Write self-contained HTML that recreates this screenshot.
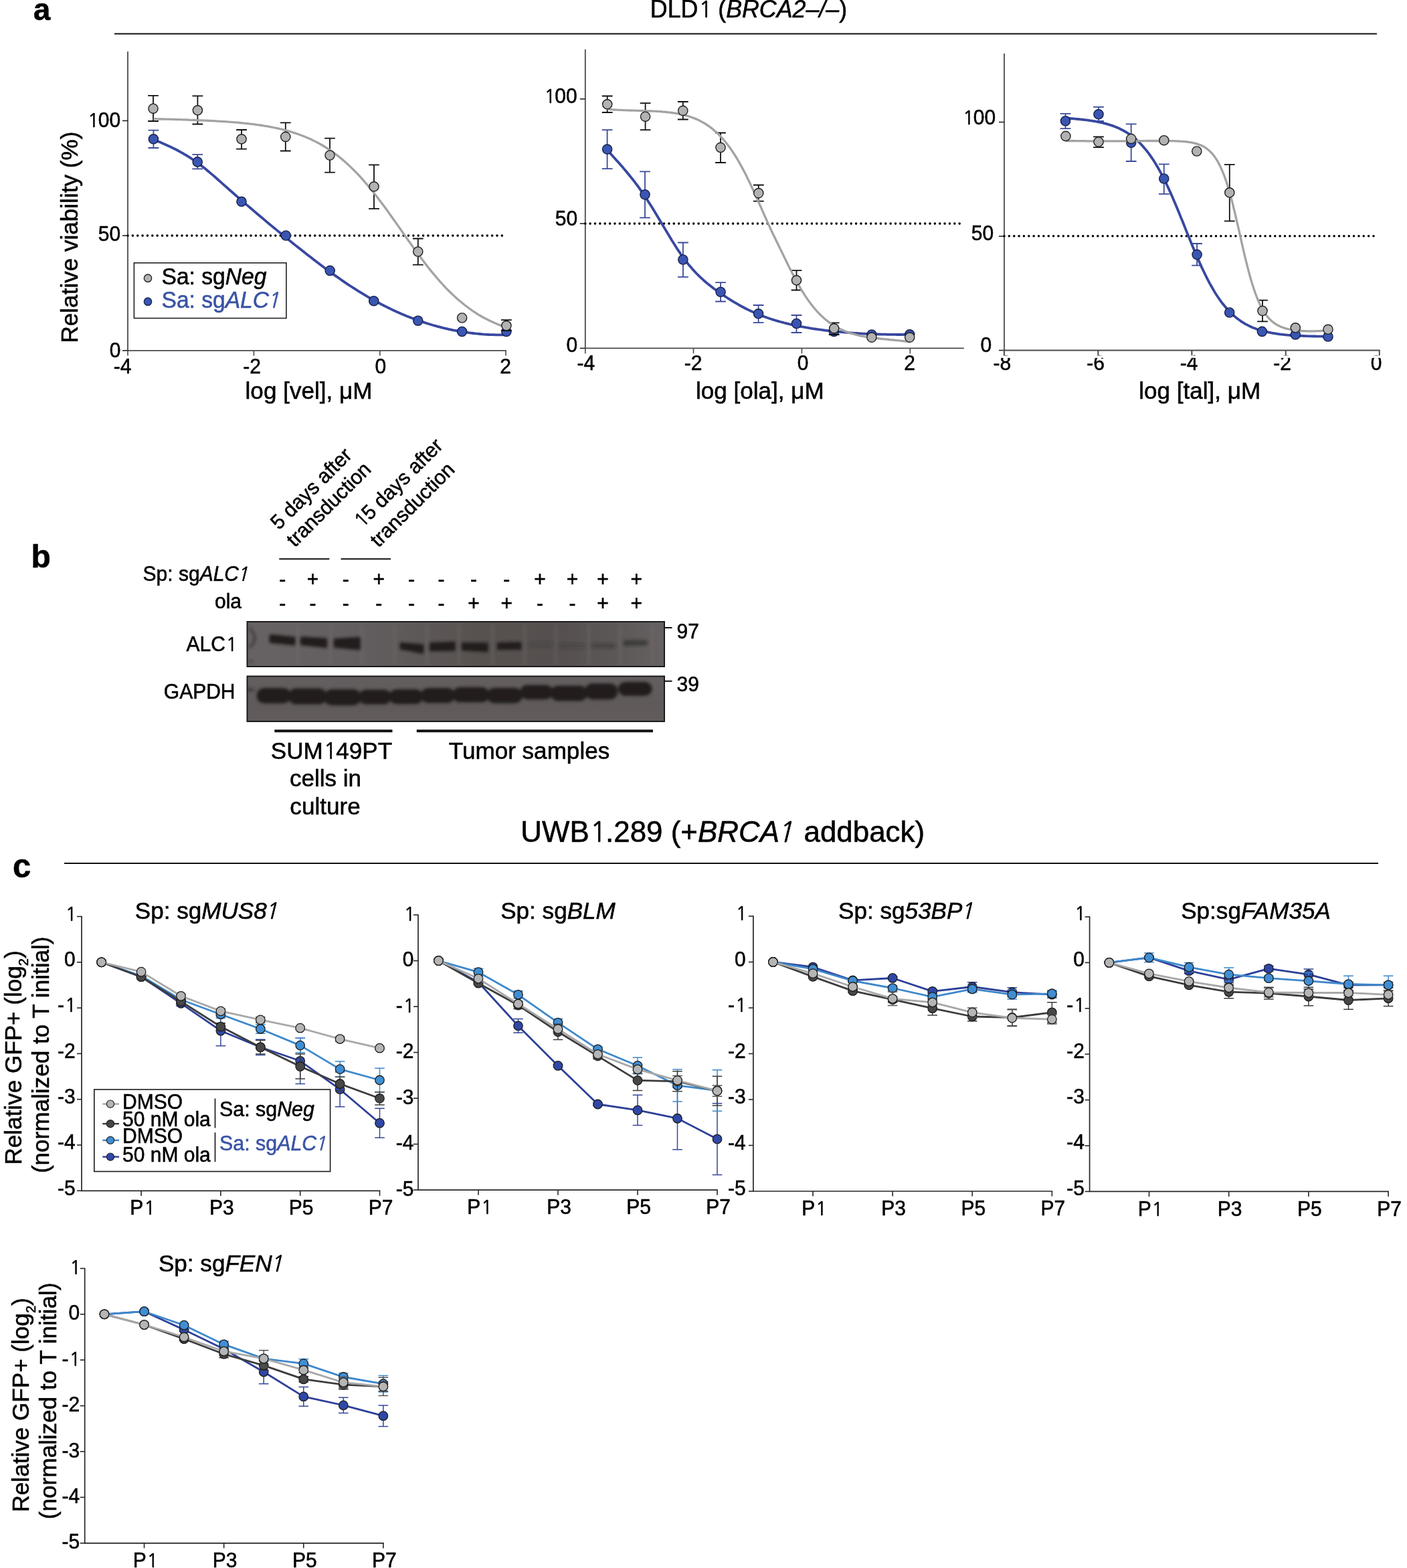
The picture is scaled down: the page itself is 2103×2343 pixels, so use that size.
<!DOCTYPE html>
<html><head><meta charset="utf-8"><title>Figure</title>
<style>
html,body{margin:0;padding:0;background:#fff;}
svg{display:block;}
text{font-family:"Liberation Sans",Arial,Helvetica,sans-serif;fill:#000;stroke:#000;stroke-width:0.55px;}
</style></head><body>
<svg width="2103" height="2343" viewBox="0 0 2103 2343">
<rect width="2103" height="2343" fill="#fff"/>
<text transform="translate(50 29.5) scale(1 1.02)" font-size="45.5" text-anchor="start" font-weight="bold">a</text>
<text transform="translate(971.8 25.7) scale(1 1.02)" font-size="35.8" text-anchor="start" >DLD<tspan font-family="NanumGothic, Liberation Sans, sans-serif" font-size="33.29" dx="1.07" letter-spacing="-1.35">1</tspan> (<tspan font-style="italic">BRCA2–/–</tspan>)</text>
<line x1="171" y1="50.5" x2="2058" y2="50.5" stroke="#111" stroke-width="2" />
<line x1="191" y1="77" x2="191" y2="524.6" stroke="#4a4a4a" stroke-width="1.8" />
<line x1="190.1" y1="523.8" x2="756.8" y2="523.8" stroke="#4a4a4a" stroke-width="1.8" />
<line x1="183" y1="523.8" x2="191" y2="523.8" stroke="#222" stroke-width="1.6" />
<text transform="translate(180.5 533.8) scale(1 1.02)" font-size="30" text-anchor="end" >0</text>
<line x1="183" y1="352.1" x2="191" y2="352.1" stroke="#222" stroke-width="1.6" />
<text transform="translate(180.2 360.3) scale(1 1.02)" font-size="30" text-anchor="end" >50</text>
<line x1="183" y1="180.4" x2="191" y2="180.4" stroke="#222" stroke-width="1.6" />
<text transform="translate(179.3 189.6) scale(1 1.02)" font-size="30" text-anchor="end" ><tspan font-family="NanumGothic, Liberation Sans, sans-serif" font-size="27.90" dx="0.90" letter-spacing="-1.13">1</tspan>00</text>
<line x1="191" y1="523.8" x2="191" y2="531.6" stroke="#4a4a4a" stroke-width="1.6" />
<line x1="379.4" y1="523.8" x2="379.4" y2="531.6" stroke="#4a4a4a" stroke-width="1.6" />
<line x1="567.8" y1="523.8" x2="567.8" y2="531.6" stroke="#4a4a4a" stroke-width="1.6" />
<line x1="756" y1="523.8" x2="756" y2="531.6" stroke="#4a4a4a" stroke-width="1.6" />
<text transform="translate(183 557.5) scale(1 1.02)" font-size="30" text-anchor="middle" >-4</text>
<text transform="translate(376.5 557.5) scale(1 1.02)" font-size="30" text-anchor="middle" >-2</text>
<text transform="translate(568.8 557.5) scale(1 1.02)" font-size="30" text-anchor="middle" >0</text>
<text transform="translate(755.6 557.5) scale(1 1.02)" font-size="30" text-anchor="middle" >2</text>
<text transform="translate(461.5 595.5) scale(1 1.02)" font-size="35.1" text-anchor="middle" >log [vel], μM</text>
<line x1="191" y1="352.1" x2="751" y2="352.1" stroke="#000" stroke-width="3.6" stroke-linecap="round" stroke-dasharray="0 7.36"/>
<path d="M229.4 194.7V221M221.5 194.7H237.3M221.5 221H237.3" stroke="#3b4a99" stroke-width="1.8" fill="none"/>
<path d="M295.2 230.8V252.3M287.3 230.8H303.1M287.3 252.3H303.1" stroke="#3b4a99" stroke-width="1.8" fill="none"/>
<path d="M229.4 208.5 L232.7 209.9 L236.0 211.2 L239.4 212.6 L242.7 214.0 L246.0 215.4 L249.3 216.9 L252.6 218.4 L255.9 220.0 L259.3 221.6 L262.6 223.3 L265.9 225.0 L269.2 226.8 L272.5 228.6 L275.8 230.6 L279.2 232.5 L282.5 234.6 L285.8 236.7 L289.1 239.0 L292.4 241.3 L295.8 243.7 L299.1 246.1 L302.4 248.7 L305.7 251.3 L309.0 254.0 L312.3 256.8 L315.7 259.6 L319.0 262.4 L322.3 265.3 L325.6 268.2 L328.9 271.2 L332.2 274.1 L335.6 277.1 L338.9 280.0 L342.2 283.0 L345.5 285.9 L348.8 288.8 L352.2 291.7 L355.5 294.6 L358.8 297.5 L362.1 300.4 L365.4 303.2 L368.7 306.1 L372.1 308.9 L375.4 311.8 L378.7 314.6 L382.0 317.4 L385.3 320.2 L388.6 323.0 L392.0 325.8 L395.3 328.6 L398.6 331.4 L401.9 334.2 L405.2 336.9 L408.6 339.7 L411.9 342.4 L415.2 345.1 L418.5 347.8 L421.8 350.5 L425.1 353.2 L428.5 355.9 L431.8 358.6 L435.1 361.3 L438.4 363.9 L441.7 366.6 L445.0 369.2 L448.4 371.8 L451.7 374.5 L455.0 377.1 L458.3 379.7 L461.6 382.3 L465.0 384.8 L468.3 387.4 L471.6 390.0 L474.9 392.5 L478.2 395.0 L481.5 397.5 L484.9 400.0 L488.2 402.5 L491.5 404.9 L494.8 407.3 L498.1 409.7 L501.4 412.1 L504.8 414.4 L508.1 416.8 L511.4 419.1 L514.7 421.3 L518.0 423.6 L521.3 425.8 L524.7 428.0 L528.0 430.1 L531.3 432.2 L534.6 434.3 L537.9 436.4 L541.3 438.4 L544.6 440.4 L547.9 442.4 L551.2 444.3 L554.5 446.2 L557.8 448.1 L561.2 450.0 L564.5 451.8 L567.8 453.5 L571.1 455.3 L574.4 457.0 L577.7 458.6 L581.1 460.3 L584.4 461.9 L587.7 463.5 L591.0 465.0 L594.3 466.5 L597.7 468.0 L601.0 469.4 L604.3 470.8 L607.6 472.2 L610.9 473.5 L614.2 474.8 L617.6 476.1 L620.9 477.3 L624.2 478.5 L627.5 479.7 L630.8 480.8 L634.1 481.9 L637.5 483.0 L640.8 484.0 L644.1 485.0 L647.4 486.0 L650.7 486.9 L654.1 487.8 L657.4 488.7 L660.7 489.6 L664.0 490.4 L667.3 491.1 L670.6 491.9 L674.0 492.6 L677.3 493.3 L680.6 493.9 L683.9 494.6 L687.2 495.1 L690.5 495.7 L693.9 496.2 L697.2 496.7 L700.5 497.2 L703.8 497.6 L707.1 498.0 L710.5 498.4 L713.8 498.7 L717.1 499.0 L720.4 499.3 L723.7 499.6 L727.0 499.8 L730.4 500.0 L733.7 500.1 L737.0 500.2 L740.3 500.3 L743.6 500.4 L746.9 500.4 L750.3 500.4 L753.6 500.4 L756.9 500.3" stroke="#3848a0" stroke-width="3.8" fill="none" stroke-linejoin="round"/>
<circle cx="229.4" cy="207.8" r="7.1" fill="#3a56b2" stroke="#161f4a" stroke-width="1.4"/>
<circle cx="295.2" cy="241.9" r="7.1" fill="#3a56b2" stroke="#161f4a" stroke-width="1.4"/>
<circle cx="361" cy="301.3" r="7.1" fill="#3a56b2" stroke="#161f4a" stroke-width="1.4"/>
<circle cx="427.3" cy="352" r="7.1" fill="#3a56b2" stroke="#161f4a" stroke-width="1.4"/>
<circle cx="493.2" cy="404.4" r="7.1" fill="#3a56b2" stroke="#161f4a" stroke-width="1.4"/>
<circle cx="558.7" cy="449.7" r="7.1" fill="#3a56b2" stroke="#161f4a" stroke-width="1.4"/>
<circle cx="624.8" cy="479.2" r="7.1" fill="#3a56b2" stroke="#161f4a" stroke-width="1.4"/>
<circle cx="690.6" cy="495.5" r="7.1" fill="#3a56b2" stroke="#161f4a" stroke-width="1.4"/>
<circle cx="756.9" cy="495.5" r="7.1" fill="#3a56b2" stroke="#161f4a" stroke-width="1.4"/>
<path d="M229 142.9V181M221.1 142.9H236.9M221.1 181H236.9" stroke="#111" stroke-width="1.8" fill="none"/>
<path d="M295.4 143.3V185.5M287.5 143.3H303.3M287.5 185.5H303.3" stroke="#111" stroke-width="1.8" fill="none"/>
<path d="M361 194V222.6M353.1 194H368.9M353.1 222.6H368.9" stroke="#111" stroke-width="1.8" fill="none"/>
<path d="M426.8 183.3V225.5M418.9 183.3H434.7M418.9 225.5H434.7" stroke="#111" stroke-width="1.8" fill="none"/>
<path d="M493 206.7V257.7M485.1 206.7H500.9M485.1 257.7H500.9" stroke="#111" stroke-width="1.8" fill="none"/>
<path d="M559 246.3V311.8M551.1 246.3H566.9M551.1 311.8H566.9" stroke="#111" stroke-width="1.8" fill="none"/>
<path d="M624.8 356.5V395.6M616.9 356.5H632.7M616.9 395.6H632.7" stroke="#111" stroke-width="1.8" fill="none"/>
<path d="M756.9 478.2V494M749 478.2H764.8M749 494H764.8" stroke="#111" stroke-width="1.8" fill="none"/>
<path d="M229.5 177.6 L232.8 177.7 L236.1 177.8 L239.5 177.9 L242.8 178.0 L246.1 178.1 L249.4 178.1 L252.7 178.2 L256.0 178.3 L259.4 178.4 L262.7 178.5 L266.0 178.6 L269.3 178.7 L272.6 178.8 L275.9 178.9 L279.3 179.0 L282.6 179.2 L285.9 179.3 L289.2 179.4 L292.5 179.5 L295.8 179.6 L299.2 179.8 L302.5 179.9 L305.8 180.1 L309.1 180.2 L312.4 180.4 L315.7 180.5 L319.1 180.7 L322.4 180.9 L325.7 181.1 L329.0 181.3 L332.3 181.5 L335.6 181.7 L339.0 181.9 L342.3 182.2 L345.6 182.4 L348.9 182.7 L352.2 182.9 L355.5 183.2 L358.9 183.5 L362.2 183.8 L365.5 184.2 L368.8 184.5 L372.1 184.9 L375.4 185.3 L378.8 185.7 L382.1 186.1 L385.4 186.6 L388.7 187.0 L392.0 187.5 L395.3 188.1 L398.7 188.6 L402.0 189.2 L405.3 189.8 L408.6 190.5 L411.9 191.1 L415.3 191.9 L418.6 192.6 L421.9 193.4 L425.2 194.3 L428.5 195.1 L431.8 196.1 L435.2 197.0 L438.5 198.1 L441.8 199.1 L445.1 200.3 L448.4 201.5 L451.7 202.7 L455.1 204.0 L458.4 205.4 L461.7 206.8 L465.0 208.3 L468.3 209.9 L471.6 211.6 L475.0 213.3 L478.3 215.1 L481.6 217.0 L484.9 219.0 L488.2 221.1 L491.5 223.2 L494.9 225.5 L498.2 227.8 L501.5 230.2 L504.8 232.8 L508.1 235.4 L511.4 238.1 L514.8 241.0 L518.1 243.9 L521.4 247.0 L524.7 250.1 L528.0 253.4 L531.3 256.7 L534.7 260.2 L538.0 263.7 L541.3 267.4 L544.6 271.1 L547.9 275.0 L551.2 278.9 L554.6 282.9 L557.9 287.1 L561.2 291.3 L564.5 295.5 L567.8 299.9 L571.1 304.3 L574.5 308.8 L577.8 313.3 L581.1 317.9 L584.4 322.5 L587.7 327.2 L591.1 331.9 L594.4 336.6 L597.7 341.3 L601.0 346.0 L604.3 350.7 L607.6 355.5 L611.0 360.2 L614.3 364.8 L617.6 369.5 L620.9 374.1 L624.2 378.6 L627.5 383.1 L630.9 387.5 L634.2 391.9 L637.5 396.2 L640.8 400.5 L644.1 404.6 L647.4 408.7 L650.8 412.6 L654.1 416.5 L657.4 420.3 L660.7 424.0 L664.0 427.6 L667.3 431.1 L670.7 434.5 L674.0 437.7 L677.3 440.9 L680.6 444.0 L683.9 447.0 L687.2 449.8 L690.6 452.6 L693.9 455.3 L697.2 457.8 L700.5 460.3 L703.8 462.7 L707.1 465.0 L710.5 467.2 L713.8 469.3 L717.1 471.3 L720.4 473.2 L723.7 475.0 L727.0 476.8 L730.4 478.5 L733.7 480.1 L737.0 481.6 L740.3 483.1 L743.6 484.5 L746.9 485.8 L750.3 487.1 L753.6 488.3 L756.9 489.4" stroke="#a3a3a3" stroke-width="3.3" fill="none" stroke-linejoin="round"/>
<circle cx="229" cy="162.2" r="7.1" fill="#b2b2b2" stroke="#1e1e1e" stroke-width="1.4"/>
<circle cx="295.4" cy="164.8" r="7.1" fill="#b2b2b2" stroke="#1e1e1e" stroke-width="1.4"/>
<circle cx="361" cy="207.8" r="7.1" fill="#b2b2b2" stroke="#1e1e1e" stroke-width="1.4"/>
<circle cx="426.8" cy="204.4" r="7.1" fill="#b2b2b2" stroke="#1e1e1e" stroke-width="1.4"/>
<circle cx="493" cy="232" r="7.1" fill="#b2b2b2" stroke="#1e1e1e" stroke-width="1.4"/>
<circle cx="559" cy="278.8" r="7.1" fill="#b2b2b2" stroke="#1e1e1e" stroke-width="1.4"/>
<circle cx="624.8" cy="376" r="7.1" fill="#b2b2b2" stroke="#1e1e1e" stroke-width="1.4"/>
<circle cx="690.6" cy="475" r="7.1" fill="#b2b2b2" stroke="#1e1e1e" stroke-width="1.4"/>
<circle cx="756.9" cy="486.6" r="7.1" fill="#b2b2b2" stroke="#1e1e1e" stroke-width="1.4"/>
<line x1="874.8" y1="73.8" x2="874.8" y2="521.2" stroke="#4a4a4a" stroke-width="1.8" />
<line x1="873.9" y1="520.4" x2="1440.8" y2="520.4" stroke="#4a4a4a" stroke-width="1.8" />
<line x1="866.8" y1="520.4" x2="874.8" y2="520.4" stroke="#222" stroke-width="1.6" />
<text transform="translate(863.1 525.8) scale(1 1.02)" font-size="30" text-anchor="end" >0</text>
<line x1="866.8" y1="334.1" x2="874.8" y2="334.1" stroke="#222" stroke-width="1.6" />
<text transform="translate(863.1 336.8) scale(1 1.02)" font-size="30" text-anchor="end" >50</text>
<line x1="866.8" y1="147.9" x2="874.8" y2="147.9" stroke="#222" stroke-width="1.6" />
<text transform="translate(861.8 153.5) scale(1 1.02)" font-size="30" text-anchor="end" ><tspan font-family="NanumGothic, Liberation Sans, sans-serif" font-size="27.90" dx="0.90" letter-spacing="-1.13">1</tspan>00</text>
<line x1="874.8" y1="520.4" x2="874.8" y2="528.2" stroke="#4a4a4a" stroke-width="1.6" />
<line x1="1036.5" y1="520.4" x2="1036.5" y2="528.2" stroke="#4a4a4a" stroke-width="1.6" />
<line x1="1198.4" y1="520.4" x2="1198.4" y2="528.2" stroke="#4a4a4a" stroke-width="1.6" />
<line x1="1360.3" y1="520.4" x2="1360.3" y2="528.2" stroke="#4a4a4a" stroke-width="1.6" />
<text transform="translate(875.8 553.2) scale(1 1.02)" font-size="30" text-anchor="middle" >-4</text>
<text transform="translate(1036 553.2) scale(1 1.02)" font-size="30" text-anchor="middle" >-2</text>
<text transform="translate(1200 553.2) scale(1 1.02)" font-size="30" text-anchor="middle" >0</text>
<text transform="translate(1359.7 553.2) scale(1 1.02)" font-size="30" text-anchor="middle" >2</text>
<text transform="translate(1135.8 595.5) scale(1 1.02)" font-size="35.1" text-anchor="middle" >log [ola], μM</text>
<line x1="874.8" y1="334.1" x2="1436" y2="334.1" stroke="#000" stroke-width="3.6" stroke-linecap="round" stroke-dasharray="0 7.36"/>
<path d="M907.6 194.2V252.2M899.7 194.2H915.5M899.7 252.2H915.5" stroke="#3b4a99" stroke-width="1.8" fill="none"/>
<path d="M964 256.3V325.3M956.1 256.3H971.9M956.1 325.3H971.9" stroke="#3b4a99" stroke-width="1.8" fill="none"/>
<path d="M1020.9 362.5V413.9M1013 362.5H1028.8M1013 413.9H1028.8" stroke="#3b4a99" stroke-width="1.8" fill="none"/>
<path d="M1077.1 422.1V450.5M1069.2 422.1H1085M1069.2 450.5H1085" stroke="#3b4a99" stroke-width="1.8" fill="none"/>
<path d="M1133.6 456V482.2M1125.7 456H1141.5M1125.7 482.2H1141.5" stroke="#3b4a99" stroke-width="1.8" fill="none"/>
<path d="M1190.5 471V497M1182.6 471H1198.4M1182.6 497H1198.4" stroke="#3b4a99" stroke-width="1.8" fill="none"/>
<path d="M907.6 224.2 L910.4 227.3 L913.3 230.4 L916.1 233.6 L919.0 236.7 L921.8 239.9 L924.7 243.0 L927.5 246.3 L930.4 249.5 L933.2 252.9 L936.1 256.2 L938.9 259.7 L941.8 263.2 L944.6 266.7 L947.5 270.4 L950.3 274.1 L953.2 277.9 L956.0 281.9 L958.8 285.9 L961.7 290.0 L964.5 294.2 L967.4 298.6 L970.2 303.0 L973.1 307.5 L975.9 312.1 L978.8 316.8 L981.6 321.5 L984.5 326.2 L987.3 331.0 L990.2 335.8 L993.0 340.6 L995.9 345.3 L998.7 350.1 L1001.6 354.8 L1004.4 359.5 L1007.3 364.0 L1010.1 368.5 L1012.9 372.9 L1015.8 377.1 L1018.6 381.3 L1021.5 385.3 L1024.3 389.1 L1027.2 392.7 L1030.0 396.3 L1032.9 399.6 L1035.7 402.9 L1038.6 406.0 L1041.4 409.0 L1044.3 411.8 L1047.1 414.6 L1050.0 417.2 L1052.8 419.8 L1055.7 422.2 L1058.5 424.6 L1061.3 426.8 L1064.2 429.0 L1067.0 431.2 L1069.9 433.3 L1072.7 435.3 L1075.6 437.3 L1078.4 439.3 L1081.3 441.2 L1084.1 443.1 L1087.0 445.0 L1089.8 446.8 L1092.7 448.6 L1095.5 450.3 L1098.4 452.1 L1101.2 453.7 L1104.1 455.4 L1106.9 457.0 L1109.7 458.5 L1112.6 460.0 L1115.4 461.5 L1118.3 462.9 L1121.1 464.3 L1124.0 465.6 L1126.8 466.9 L1129.7 468.1 L1132.5 469.4 L1135.4 470.5 L1138.2 471.6 L1141.1 472.7 L1143.9 473.8 L1146.8 474.8 L1149.6 475.8 L1152.5 476.7 L1155.3 477.6 L1158.2 478.5 L1161.0 479.4 L1163.8 480.2 L1166.7 481.0 L1169.5 481.7 L1172.4 482.5 L1175.2 483.2 L1178.1 483.9 L1180.9 484.6 L1183.8 485.2 L1186.6 485.8 L1189.5 486.5 L1192.3 487.0 L1195.2 487.6 L1198.0 488.2 L1200.9 488.7 L1203.7 489.2 L1206.6 489.7 L1209.4 490.2 L1212.2 490.6 L1215.1 491.1 L1217.9 491.5 L1220.8 491.9 L1223.6 492.3 L1226.5 492.7 L1229.3 493.1 L1232.2 493.5 L1235.0 493.8 L1237.9 494.1 L1240.7 494.5 L1243.6 494.8 L1246.4 495.1 L1249.3 495.4 L1252.1 495.7 L1255.0 495.9 L1257.8 496.2 L1260.6 496.4 L1263.5 496.7 L1266.3 496.9 L1269.2 497.1 L1272.0 497.4 L1274.9 497.6 L1277.7 497.8 L1280.6 497.9 L1283.4 498.1 L1286.3 498.3 L1289.1 498.5 L1292.0 498.6 L1294.8 498.8 L1297.7 498.9 L1300.5 499.0 L1303.4 499.1 L1306.2 499.2 L1309.1 499.3 L1311.9 499.4 L1314.7 499.5 L1317.6 499.6 L1320.4 499.7 L1323.3 499.7 L1326.1 499.8 L1329.0 499.8 L1331.8 499.9 L1334.7 499.9 L1337.5 499.9 L1340.4 500.0 L1343.2 500.0 L1346.1 500.0 L1348.9 500.0 L1351.8 499.9 L1354.6 499.9 L1357.5 499.9 L1360.3 499.8" stroke="#3848a0" stroke-width="3.8" fill="none" stroke-linejoin="round"/>
<circle cx="907.6" cy="223.1" r="7.1" fill="#3a56b2" stroke="#161f4a" stroke-width="1.4"/>
<circle cx="964" cy="290.7" r="7.1" fill="#3a56b2" stroke="#161f4a" stroke-width="1.4"/>
<circle cx="1020.9" cy="388" r="7.1" fill="#3a56b2" stroke="#161f4a" stroke-width="1.4"/>
<circle cx="1077.1" cy="436.2" r="7.1" fill="#3a56b2" stroke="#161f4a" stroke-width="1.4"/>
<circle cx="1133.6" cy="468.8" r="7.1" fill="#3a56b2" stroke="#161f4a" stroke-width="1.4"/>
<circle cx="1190.5" cy="483.5" r="7.1" fill="#3a56b2" stroke="#161f4a" stroke-width="1.4"/>
<circle cx="1246.5" cy="495.4" r="7.1" fill="#3a56b2" stroke="#161f4a" stroke-width="1.4"/>
<circle cx="1302.9" cy="500" r="7.1" fill="#3a56b2" stroke="#161f4a" stroke-width="1.4"/>
<circle cx="1359.7" cy="499.8" r="7.1" fill="#3a56b2" stroke="#161f4a" stroke-width="1.4"/>
<path d="M907.7 143.5V168M899.8 143.5H915.6M899.8 168H915.6" stroke="#111" stroke-width="1.8" fill="none"/>
<path d="M964.6 154.2V194.2M956.7 154.2H972.5M956.7 194.2H972.5" stroke="#111" stroke-width="1.8" fill="none"/>
<path d="M1020.8 152V178.5M1012.9 152H1028.7M1012.9 178.5H1028.7" stroke="#111" stroke-width="1.8" fill="none"/>
<path d="M1077 198.5V243M1069.1 198.5H1084.9M1069.1 243H1084.9" stroke="#111" stroke-width="1.8" fill="none"/>
<path d="M1133.8 276.5V300.7M1125.9 276.5H1141.7M1125.9 300.7H1141.7" stroke="#111" stroke-width="1.8" fill="none"/>
<path d="M1190.5 404.2V433.5M1182.6 404.2H1198.4M1182.6 433.5H1198.4" stroke="#111" stroke-width="1.8" fill="none"/>
<path d="M1246.7 482.3V500M1238.8 482.3H1254.6M1238.8 500H1254.6" stroke="#111" stroke-width="1.8" fill="none"/>
<path d="M907.7 163.2 L910.5 163.4 L913.4 163.6 L916.2 163.8 L919.1 164.0 L921.9 164.2 L924.8 164.3 L927.6 164.4 L930.5 164.6 L933.3 164.7 L936.2 164.8 L939.0 164.9 L941.9 165.0 L944.7 165.1 L947.6 165.2 L950.4 165.2 L953.2 165.3 L956.1 165.4 L958.9 165.5 L961.8 165.6 L964.6 165.7 L967.5 165.8 L970.3 165.9 L973.2 166.0 L976.0 166.1 L978.9 166.2 L981.7 166.4 L984.6 166.6 L987.4 166.7 L990.2 167.0 L993.1 167.2 L995.9 167.5 L998.8 167.8 L1001.6 168.1 L1004.5 168.5 L1007.3 168.9 L1010.2 169.3 L1013.0 169.8 L1015.9 170.4 L1018.7 171.0 L1021.6 171.6 L1024.4 172.4 L1027.3 173.2 L1030.1 174.0 L1032.9 175.0 L1035.8 176.0 L1038.6 177.1 L1041.5 178.3 L1044.3 179.6 L1047.2 181.0 L1050.0 182.6 L1052.9 184.2 L1055.7 186.0 L1058.6 187.9 L1061.4 189.9 L1064.3 192.1 L1067.1 194.4 L1070.0 196.9 L1072.8 199.6 L1075.6 202.4 L1078.5 205.4 L1081.3 208.6 L1084.2 212.0 L1087.0 215.6 L1089.9 219.3 L1092.7 223.3 L1095.6 227.5 L1098.4 231.9 L1101.3 236.5 L1104.1 241.3 L1107.0 246.4 L1109.8 251.6 L1112.7 257.0 L1115.5 262.6 L1118.3 268.4 L1121.2 274.3 L1124.0 280.4 L1126.9 286.5 L1129.7 292.8 L1132.6 299.1 L1135.4 305.5 L1138.3 311.9 L1141.1 318.4 L1144.0 324.8 L1146.8 331.2 L1149.7 337.4 L1152.5 343.5 L1155.3 349.5 L1158.2 355.3 L1161.0 361.2 L1163.9 367.0 L1166.7 372.9 L1169.6 378.8 L1172.4 384.6 L1175.3 390.5 L1178.1 396.2 L1181.0 401.9 L1183.8 407.5 L1186.7 412.9 L1189.5 418.2 L1192.4 423.4 L1195.2 428.4 L1198.0 433.3 L1200.9 437.9 L1203.7 442.3 L1206.6 446.6 L1209.4 450.6 L1212.3 454.4 L1215.1 458.1 L1218.0 461.5 L1220.8 464.8 L1223.7 467.8 L1226.5 470.7 L1229.4 473.4 L1232.2 476.0 L1235.1 478.4 L1237.9 480.6 L1240.7 482.7 L1243.6 484.7 L1246.4 486.5 L1249.3 488.2 L1252.1 489.8 L1255.0 491.2 L1257.8 492.6 L1260.7 493.9 L1263.5 495.1 L1266.4 496.1 L1269.2 497.1 L1272.1 498.1 L1274.9 498.9 L1277.8 499.7 L1280.6 500.5 L1283.4 501.1 L1286.3 501.8 L1289.1 502.3 L1292.0 502.9 L1294.8 503.4 L1297.7 503.8 L1300.5 504.2 L1303.4 504.7 L1306.2 505.0 L1309.1 505.4 L1311.9 505.7 L1314.8 506.0 L1317.6 506.3 L1320.4 506.6 L1323.3 506.9 L1326.1 507.2 L1329.0 507.5 L1331.8 507.8 L1334.7 508.0 L1337.5 508.3 L1340.4 508.6 L1343.2 508.9 L1346.1 509.2 L1348.9 509.5 L1351.8 509.8 L1354.6 510.2 L1357.5 510.5 L1360.3 510.9" stroke="#a3a3a3" stroke-width="3.3" fill="none" stroke-linejoin="round"/>
<circle cx="907.7" cy="155.8" r="7.1" fill="#b2b2b2" stroke="#1e1e1e" stroke-width="1.4"/>
<circle cx="964.6" cy="174.2" r="7.1" fill="#b2b2b2" stroke="#1e1e1e" stroke-width="1.4"/>
<circle cx="1020.8" cy="165.4" r="7.1" fill="#b2b2b2" stroke="#1e1e1e" stroke-width="1.4"/>
<circle cx="1077" cy="220.4" r="7.1" fill="#b2b2b2" stroke="#1e1e1e" stroke-width="1.4"/>
<circle cx="1133.8" cy="288.6" r="7.1" fill="#b2b2b2" stroke="#1e1e1e" stroke-width="1.4"/>
<circle cx="1190.5" cy="418.8" r="7.1" fill="#b2b2b2" stroke="#1e1e1e" stroke-width="1.4"/>
<circle cx="1246.7" cy="490.8" r="7.1" fill="#b2b2b2" stroke="#1e1e1e" stroke-width="1.4"/>
<circle cx="1302.9" cy="504.1" r="7.1" fill="#b2b2b2" stroke="#1e1e1e" stroke-width="1.4"/>
<circle cx="1359.7" cy="504.1" r="7.1" fill="#b2b2b2" stroke="#1e1e1e" stroke-width="1.4"/>
<line x1="1501" y1="80" x2="1501" y2="524.3" stroke="#4a4a4a" stroke-width="1.8" />
<line x1="1500.1" y1="523.5" x2="2062.5" y2="523.5" stroke="#4a4a4a" stroke-width="1.8" />
<line x1="1493" y1="523.5" x2="1501" y2="523.5" stroke="#222" stroke-width="1.6" />
<text transform="translate(1482.2 525.9) scale(1 1.02)" font-size="30" text-anchor="end" >0</text>
<line x1="1493" y1="353.1" x2="1501" y2="353.1" stroke="#222" stroke-width="1.6" />
<text transform="translate(1485.2 358.7) scale(1 1.02)" font-size="30" text-anchor="end" >50</text>
<line x1="1493" y1="182.5" x2="1501" y2="182.5" stroke="#222" stroke-width="1.6" />
<text transform="translate(1487.2 185.6) scale(1 1.02)" font-size="30" text-anchor="end" ><tspan font-family="NanumGothic, Liberation Sans, sans-serif" font-size="27.90" dx="0.90" letter-spacing="-1.13">1</tspan>00</text>
<line x1="1501" y1="523.5" x2="1501" y2="531.3" stroke="#4a4a4a" stroke-width="1.6" />
<line x1="1641.4" y1="523.5" x2="1641.4" y2="531.3" stroke="#4a4a4a" stroke-width="1.6" />
<line x1="1781.4" y1="523.5" x2="1781.4" y2="531.3" stroke="#4a4a4a" stroke-width="1.6" />
<line x1="1921.7" y1="523.5" x2="1921.7" y2="531.3" stroke="#4a4a4a" stroke-width="1.6" />
<line x1="2061.7" y1="523.5" x2="2061.7" y2="531.3" stroke="#4a4a4a" stroke-width="1.6" />
<text transform="translate(1497.8 553.4) scale(1 1.02)" font-size="30" text-anchor="middle" >-8</text>
<text transform="translate(1637.6 553.4) scale(1 1.02)" font-size="30" text-anchor="middle" >-6</text>
<text transform="translate(1777 553.4) scale(1 1.02)" font-size="30" text-anchor="middle" >-4</text>
<text transform="translate(1916.6 553.4) scale(1 1.02)" font-size="30" text-anchor="middle" >-2</text>
<text transform="translate(2057 553.4) scale(1 1.02)" font-size="30" text-anchor="middle" >0</text>
<text transform="translate(1793.2 595.5) scale(1 1.02)" font-size="35.1" text-anchor="middle" >log [tal], μM</text>
<line x1="1501" y1="352.8" x2="2058" y2="352.8" stroke="#000" stroke-width="3.6" stroke-linecap="round" stroke-dasharray="0 7.36"/>
<path d="M1592.5 169.8V192.2M1584.6 169.8H1600.4M1584.6 192.2H1600.4" stroke="#3b4a99" stroke-width="1.8" fill="none"/>
<path d="M1642 159.9V181M1634.1 159.9H1649.9M1634.1 181H1649.9" stroke="#3b4a99" stroke-width="1.8" fill="none"/>
<path d="M1690.7 185.3V241M1682.8 185.3H1698.6M1682.8 241H1698.6" stroke="#3b4a99" stroke-width="1.8" fill="none"/>
<path d="M1739.8 245.3V289.8M1731.9 245.3H1747.7M1731.9 289.8H1747.7" stroke="#3b4a99" stroke-width="1.8" fill="none"/>
<path d="M1789.1 364V396.6M1781.2 364H1797M1781.2 396.6H1797" stroke="#3b4a99" stroke-width="1.8" fill="none"/>
<path d="M1592.5 176.0 L1599.8 177.0 L1602.2 177.2 L1604.6 177.4 L1607.1 177.6 L1609.5 177.8 L1611.9 178.0 L1614.3 178.3 L1616.8 178.5 L1619.2 178.8 L1621.6 179.1 L1624.0 179.4 L1626.4 179.7 L1628.9 180.1 L1631.3 180.4 L1633.7 180.8 L1636.1 181.2 L1638.6 181.6 L1641.0 182.1 L1643.4 182.6 L1645.8 183.1 L1648.3 183.7 L1650.7 184.3 L1653.1 184.9 L1655.5 185.6 L1657.9 186.3 L1660.4 187.1 L1662.8 187.9 L1665.2 188.8 L1667.6 189.8 L1670.1 190.8 L1672.5 191.8 L1674.9 193.0 L1677.3 194.2 L1679.7 195.5 L1682.2 196.9 L1684.6 198.4 L1687.0 199.9 L1689.4 201.6 L1691.9 203.4 L1694.3 205.3 L1696.7 207.3 L1699.1 209.4 L1701.6 211.7 L1704.0 214.0 L1706.4 216.6 L1708.8 219.2 L1711.2 222.1 L1713.7 225.0 L1716.1 228.1 L1718.5 231.4 L1720.9 234.9 L1723.4 238.5 L1725.8 242.3 L1728.2 246.2 L1730.6 250.3 L1733.0 254.6 L1735.5 259.1 L1737.9 263.7 L1740.3 268.5 L1742.7 273.4 L1745.2 278.5 L1747.6 283.8 L1750.0 289.1 L1752.4 294.6 L1754.8 300.2 L1757.3 306.0 L1759.7 311.8 L1762.1 317.6 L1764.5 323.6 L1767.0 329.5 L1769.4 335.5 L1771.8 341.6 L1774.2 347.6 L1776.7 353.6 L1779.1 359.6 L1781.5 365.5 L1783.9 371.3 L1786.3 377.1 L1788.8 382.7 L1791.2 388.3 L1793.6 393.8 L1796.0 399.1 L1798.5 404.3 L1800.9 409.3 L1803.3 414.2 L1805.7 418.9 L1808.1 423.4 L1810.6 427.8 L1813.0 432.0 L1815.4 436.1 L1817.8 440.0 L1820.3 443.7 L1822.7 447.2 L1825.1 450.6 L1827.5 453.8 L1830.0 456.8 L1832.4 459.7 L1834.8 462.5 L1837.2 465.1 L1839.6 467.5 L1842.1 469.8 L1844.5 472.0 L1846.9 474.1 L1849.3 476.0 L1851.8 477.8 L1854.2 479.6 L1856.6 481.2 L1859.0 482.7 L1861.4 484.1 L1863.9 485.4 L1866.3 486.6 L1868.7 487.8 L1871.1 488.9 L1873.6 489.9 L1876.0 490.8 L1878.4 491.7 L1880.8 492.5 L1883.2 493.3 L1885.7 494.0 L1888.1 494.7 L1890.5 495.3 L1892.9 495.9 L1895.4 496.4 L1897.8 496.9 L1900.2 497.4 L1902.6 497.8 L1905.1 498.2 L1907.5 498.6 L1909.9 499.0 L1912.3 499.3 L1914.7 499.6 L1917.2 499.8 L1919.6 500.1 L1922.0 500.3 L1924.4 500.6 L1926.9 500.8 L1929.3 501.0 L1931.7 501.1 L1934.1 501.3 L1936.5 501.4 L1939.0 501.6 L1941.4 501.7 L1943.8 501.8 L1946.2 501.9 L1948.7 502.0 L1951.1 502.1 L1953.5 502.2 L1955.9 502.3 L1958.4 502.4 L1960.8 502.4 L1963.2 502.5 L1965.6 502.5 L1968.0 502.6 L1970.5 502.6 L1972.9 502.7 L1975.3 502.7 L1977.7 502.8 L1980.2 502.8 L1982.6 502.8 L1985.0 502.8" stroke="#3848a0" stroke-width="3.8" fill="none" stroke-linejoin="round"/>
<circle cx="1592.5" cy="180.7" r="7.1" fill="#3a56b2" stroke="#161f4a" stroke-width="1.4"/>
<circle cx="1642" cy="170.8" r="7.1" fill="#3a56b2" stroke="#161f4a" stroke-width="1.4"/>
<circle cx="1690.7" cy="213.3" r="7.1" fill="#3a56b2" stroke="#161f4a" stroke-width="1.4"/>
<circle cx="1739.8" cy="267" r="7.1" fill="#3a56b2" stroke="#161f4a" stroke-width="1.4"/>
<circle cx="1789.1" cy="380.4" r="7.1" fill="#3a56b2" stroke="#161f4a" stroke-width="1.4"/>
<circle cx="1837.7" cy="467" r="7.1" fill="#3a56b2" stroke="#161f4a" stroke-width="1.4"/>
<circle cx="1886.4" cy="495.4" r="7.1" fill="#3a56b2" stroke="#161f4a" stroke-width="1.4"/>
<circle cx="1936.3" cy="499.9" r="7.1" fill="#3a56b2" stroke="#161f4a" stroke-width="1.4"/>
<circle cx="1985" cy="503" r="7.1" fill="#3a56b2" stroke="#161f4a" stroke-width="1.4"/>
<path d="M1642 204.4V220.2M1634.1 204.4H1649.9M1634.1 220.2H1649.9" stroke="#111" stroke-width="1.8" fill="none"/>
<path d="M1837.8 245.8V330.3M1829.9 245.8H1845.7M1829.9 330.3H1845.7" stroke="#111" stroke-width="1.8" fill="none"/>
<path d="M1887 448.7V480.3M1879.1 448.7H1894.9M1879.1 480.3H1894.9" stroke="#111" stroke-width="1.8" fill="none"/>
<path d="M1592.9 210.6 L1599.8 210.5 L1602.2 210.5 L1604.6 210.5 L1607.1 210.6 L1609.5 210.6 L1611.9 210.6 L1614.3 210.7 L1616.8 210.7 L1619.2 210.7 L1621.6 210.7 L1624.0 210.8 L1626.4 210.8 L1628.9 210.8 L1631.3 210.8 L1633.7 210.8 L1636.1 210.8 L1638.6 210.8 L1641.0 210.8 L1643.4 210.9 L1645.8 210.9 L1648.3 210.9 L1650.7 210.9 L1653.1 210.9 L1655.5 210.9 L1657.9 210.9 L1660.4 210.9 L1662.8 210.8 L1665.2 210.8 L1667.6 210.8 L1670.1 210.8 L1672.5 210.8 L1674.9 210.8 L1677.3 210.8 L1679.7 210.8 L1682.2 210.8 L1684.6 210.7 L1687.0 210.7 L1689.4 210.7 L1691.9 210.7 L1694.3 210.7 L1696.7 210.7 L1699.1 210.6 L1701.6 210.6 L1704.0 210.6 L1706.4 210.6 L1708.8 210.6 L1711.2 210.6 L1713.7 210.5 L1716.1 210.5 L1718.5 210.5 L1720.9 210.5 L1723.4 210.5 L1725.8 210.5 L1728.2 210.5 L1730.6 210.5 L1733.0 210.5 L1735.5 210.5 L1737.9 210.5 L1740.3 210.5 L1742.7 210.5 L1745.2 210.5 L1747.6 210.6 L1750.0 210.6 L1752.4 210.7 L1754.8 210.7 L1757.3 210.8 L1759.7 210.9 L1762.1 211.0 L1764.5 211.2 L1767.0 211.3 L1769.4 211.5 L1771.8 211.7 L1774.2 212.0 L1776.7 212.3 L1779.1 212.7 L1781.5 213.1 L1783.9 213.6 L1786.3 214.2 L1788.8 214.9 L1791.2 215.7 L1793.6 216.6 L1796.0 217.6 L1798.5 218.8 L1800.9 220.2 L1803.3 221.8 L1805.7 223.7 L1808.1 225.8 L1810.6 228.2 L1813.0 230.9 L1815.4 234.1 L1817.8 237.6 L1820.3 241.6 L1822.7 246.2 L1825.1 251.2 L1827.5 256.8 L1830.0 263.0 L1832.4 269.9 L1834.8 277.3 L1837.2 285.4 L1839.6 294.0 L1842.1 303.3 L1844.5 313.0 L1846.9 323.1 L1849.3 333.5 L1851.8 344.1 L1854.2 354.8 L1856.6 365.4 L1859.0 375.9 L1861.4 386.1 L1863.9 395.9 L1866.3 405.3 L1868.7 414.2 L1871.1 422.4 L1873.6 430.1 L1876.0 437.2 L1878.4 443.7 L1880.8 449.6 L1883.2 455.0 L1885.7 459.8 L1888.1 464.1 L1890.5 467.9 L1892.9 471.3 L1895.4 474.3 L1897.8 476.9 L1900.2 479.2 L1902.6 481.3 L1905.1 483.1 L1907.5 484.7 L1909.9 486.1 L1912.3 487.3 L1914.7 488.4 L1917.2 489.3 L1919.6 490.1 L1922.0 490.8 L1924.4 491.5 L1926.9 492.0 L1929.3 492.5 L1931.7 492.9 L1934.1 493.3 L1936.5 493.6 L1939.0 493.9 L1941.4 494.1 L1943.8 494.3 L1946.2 494.5 L1948.7 494.6 L1951.1 494.7 L1953.5 494.8 L1955.9 494.8 L1958.4 494.9 L1960.8 494.9 L1963.2 494.8 L1965.6 494.8 L1968.0 494.7 L1970.5 494.6 L1972.9 494.5 L1975.3 494.3 L1977.7 494.1 L1980.2 493.9 L1982.6 493.7 L1985.0 493.4" stroke="#a3a3a3" stroke-width="3.3" fill="none" stroke-linejoin="round"/>
<circle cx="1592.9" cy="203.4" r="7.1" fill="#b2b2b2" stroke="#1e1e1e" stroke-width="1.4"/>
<circle cx="1642" cy="212" r="7.1" fill="#b2b2b2" stroke="#1e1e1e" stroke-width="1.4"/>
<circle cx="1690.7" cy="207.4" r="7.1" fill="#b2b2b2" stroke="#1e1e1e" stroke-width="1.4"/>
<circle cx="1739.8" cy="209.7" r="7.1" fill="#b2b2b2" stroke="#1e1e1e" stroke-width="1.4"/>
<circle cx="1788.8" cy="226" r="7.1" fill="#b2b2b2" stroke="#1e1e1e" stroke-width="1.4"/>
<circle cx="1837.8" cy="287.8" r="7.1" fill="#b2b2b2" stroke="#1e1e1e" stroke-width="1.4"/>
<circle cx="1887" cy="464.5" r="7.1" fill="#b2b2b2" stroke="#1e1e1e" stroke-width="1.4"/>
<circle cx="1936.3" cy="489.8" r="7.1" fill="#b2b2b2" stroke="#1e1e1e" stroke-width="1.4"/>
<circle cx="1985" cy="492.3" r="7.1" fill="#b2b2b2" stroke="#1e1e1e" stroke-width="1.4"/>
<rect x="1478" y="531.4" width="600" height="3.4" fill="#fff"/>
<line x1="1500.7" y1="523" x2="1500.7" y2="530.8" stroke="#4a4a4a" stroke-width="1.6" />
<line x1="1641.4" y1="523" x2="1641.4" y2="530.8" stroke="#4a4a4a" stroke-width="1.6" />
<line x1="1781.4" y1="523" x2="1781.4" y2="530.8" stroke="#4a4a4a" stroke-width="1.6" />
<line x1="1921.7" y1="523" x2="1921.7" y2="530.8" stroke="#4a4a4a" stroke-width="1.6" />
<line x1="2061.7" y1="523" x2="2061.7" y2="530.8" stroke="#4a4a4a" stroke-width="1.6" />
<text transform="translate(116.3 354.6) rotate(-90) scale(1 1.02)" font-size="35.1" text-anchor="middle" >Relative viability (%)</text>
<rect x="200.4" y="392.8" width="227.5" height="82.7" fill="#fff" stroke="#222" stroke-width="1.6"/>
<circle cx="221" cy="415.7" r="5.7" fill="#b2b2b2" stroke="#1e1e1e" stroke-width="1.3"/>
<circle cx="221" cy="450.7" r="5.7" fill="#3a56b2" stroke="#161f4a" stroke-width="1.3"/>
<text transform="translate(241.5 424.6) scale(1 1.02)" font-size="33.6" text-anchor="start" >Sa: sg<tspan font-style="italic">Neg</tspan></text>
<text transform="translate(241.5 459.7) scale(1 1.02)" font-size="33.6" text-anchor="start" style="fill:#3a54a4;stroke:#3a54a4">Sa: sg<tspan font-style="italic">ALC<tspan font-family="NanumGothic, Liberation Sans, sans-serif" font-size="31.25" dx="-3.36" letter-spacing="3.10">1</tspan></tspan></text>
<text transform="translate(46.5 847.5) scale(1 1.02)" font-size="48" text-anchor="start" font-weight="bold">b</text>
<text transform="translate(416.8 792.8) rotate(-45) scale(1 1.02)" font-size="30" text-anchor="start" >5 days after</text>
<text transform="translate(440.8 818.7) rotate(-45) scale(1 1.02)" font-size="30" text-anchor="start" >transduction</text>
<text transform="translate(541 790.2) rotate(-45) scale(1 1.02)" font-size="30" text-anchor="start" ><tspan font-family="NanumGothic, Liberation Sans, sans-serif" font-size="27.90" dx="0.90" letter-spacing="-1.13">1</tspan>5 days after</text>
<text transform="translate(565.8 818.9) rotate(-45) scale(1 1.02)" font-size="30" text-anchor="start" >transduction</text>
<line x1="417.3" y1="835.3" x2="492.3" y2="835.3" stroke="#111" stroke-width="2" />
<line x1="509.6" y1="835.3" x2="584" y2="835.3" stroke="#111" stroke-width="2" />
<text transform="translate(213.6 868) scale(1 1.02)" font-size="30" text-anchor="start" >Sp: sg<tspan font-style="italic">ALC<tspan font-family="NanumGothic, Liberation Sans, sans-serif" font-size="27.90" dx="-3.00" letter-spacing="2.77">1</tspan></tspan></text>
<text transform="translate(321 908.5) scale(1 1.02)" font-size="30" text-anchor="start" >ola</text>
<text transform="translate(422.3 875.5) scale(1 1.02)" font-size="30" text-anchor="middle" >-</text>
<text transform="translate(422.3 911.5) scale(1 1.02)" font-size="30" text-anchor="middle" >-</text>
<text transform="translate(467.4 875.5) scale(1 1.02)" font-size="30" text-anchor="middle" >+</text>
<text transform="translate(467.4 911.5) scale(1 1.02)" font-size="30" text-anchor="middle" >-</text>
<text transform="translate(516.8 875.5) scale(1 1.02)" font-size="30" text-anchor="middle" >-</text>
<text transform="translate(516.8 911.5) scale(1 1.02)" font-size="30" text-anchor="middle" >-</text>
<text transform="translate(566.3 875.5) scale(1 1.02)" font-size="30" text-anchor="middle" >+</text>
<text transform="translate(566.3 911.5) scale(1 1.02)" font-size="30" text-anchor="middle" >-</text>
<text transform="translate(615 875.5) scale(1 1.02)" font-size="30" text-anchor="middle" >-</text>
<text transform="translate(615 911.5) scale(1 1.02)" font-size="30" text-anchor="middle" >-</text>
<text transform="translate(659.6 875.5) scale(1 1.02)" font-size="30" text-anchor="middle" >-</text>
<text transform="translate(659.6 911.5) scale(1 1.02)" font-size="30" text-anchor="middle" >-</text>
<text transform="translate(707.9 875.5) scale(1 1.02)" font-size="30" text-anchor="middle" >-</text>
<text transform="translate(707.9 911.5) scale(1 1.02)" font-size="30" text-anchor="middle" >+</text>
<text transform="translate(757.3 875.5) scale(1 1.02)" font-size="30" text-anchor="middle" >-</text>
<text transform="translate(757.3 911.5) scale(1 1.02)" font-size="30" text-anchor="middle" >+</text>
<text transform="translate(806.9 875.5) scale(1 1.02)" font-size="30" text-anchor="middle" >+</text>
<text transform="translate(806.9 911.5) scale(1 1.02)" font-size="30" text-anchor="middle" >-</text>
<text transform="translate(855.4 875.5) scale(1 1.02)" font-size="30" text-anchor="middle" >+</text>
<text transform="translate(855.4 911.5) scale(1 1.02)" font-size="30" text-anchor="middle" >-</text>
<text transform="translate(900.9 875.5) scale(1 1.02)" font-size="30" text-anchor="middle" >+</text>
<text transform="translate(900.9 911.5) scale(1 1.02)" font-size="30" text-anchor="middle" >+</text>
<text transform="translate(951.2 875.5) scale(1 1.02)" font-size="30" text-anchor="middle" >+</text>
<text transform="translate(951.2 911.5) scale(1 1.02)" font-size="30" text-anchor="middle" >+</text>
<defs><filter id="blur1" x="-20%" y="-50%" width="140%" height="200%"><feGaussianBlur stdDeviation="1.9"/></filter><filter id="blur2" x="-10%" y="-50%" width="120%" height="200%"><feGaussianBlur stdDeviation="2.1"/></filter><filter id="blur3" x="-10%" y="-10%" width="120%" height="120%"><feGaussianBlur stdDeviation="2.5"/></filter><linearGradient id="bgA" x1="369" x2="993" y1="0" y2="0" gradientUnits="userSpaceOnUse"><stop offset="0" stop-color="#676263"/><stop offset="0.28" stop-color="#625d5e"/><stop offset="0.4" stop-color="#5e5959"/><stop offset="0.55" stop-color="#57524f"/><stop offset="0.75" stop-color="#55504f"/><stop offset="0.9" stop-color="#5e5959"/><stop offset="1" stop-color="#666162"/></linearGradient><linearGradient id="bgB" x1="0" x2="0" y1="1010" y2="1078" gradientUnits="userSpaceOnUse"><stop offset="0" stop-color="#645e60"/><stop offset="0.6" stop-color="#5f5a59"/><stop offset="1" stop-color="#625d5c"/></linearGradient></defs>
<rect x="369.5" y="929" width="623.5" height="67" fill="url(#bgA)"/>
<rect x="369.5" y="1010.5" width="623.5" height="67.5" fill="url(#bgB)"/>
<g filter="url(#blur3)" opacity="0.3">
<rect x="443" y="932" width="4" height="62" fill="#7a7576"/>
<rect x="492" y="932" width="4" height="62" fill="#7a7576"/>
<rect x="539" y="932" width="4" height="62" fill="#7a7576"/>
<rect x="588" y="932" width="4" height="62" fill="#7a7576"/>
<rect x="636" y="932" width="4" height="62" fill="#7a7576"/>
<rect x="684" y="932" width="4" height="62" fill="#7a7576"/>
<rect x="734" y="932" width="4" height="62" fill="#7a7576"/>
<rect x="782" y="932" width="4" height="62" fill="#7a7576"/>
<rect x="829" y="932" width="4" height="62" fill="#7a7576"/>
<rect x="878" y="932" width="4" height="62" fill="#7a7576"/>
<rect x="925" y="932" width="4" height="62" fill="#7a7576"/>
<rect x="973" y="932" width="4" height="62" fill="#7a7576"/>
</g>
<g filter="url(#blur1)">
<path d="M402.6 950.0Q402.6 948.0 405.6 948.0L438.4 951.3Q441.4 951.3 441.4 953.3L441.4 962.2Q441.4 964.2 438.4 964.2L405.6 960.9000000000001Q402.6 960.9000000000001 402.6 958.9000000000001Z" fill="#221e1f" opacity="1"/>
<path d="M448.8 953.3Q448.8 951.3 451.8 951.3L486.2 953.5Q489.2 953.5 489.2 955.5L489.2 966.0Q489.2 968.0 486.2 968.0L451.8 964.2Q448.8 964.2 448.8 962.2Z" fill="#221e1f" opacity="1"/>
<path d="M498.8 956.0999999999999Q498.8 954.0999999999999 501.8 954.0999999999999L535.7 951.8Q538.7 951.8 538.7 953.8L538.7 969.2Q538.7 971.2 535.7 971.2L501.8 968.0Q498.8 968.0 498.8 966.0Z" fill="#221e1f" opacity="1"/>
<path d="M597.5 962.0Q597.5 960.0 600.5 960.0L630.5 962.5999999999999Q633.5 962.5999999999999 633.5 964.5999999999999L633.5 974.8000000000001Q633.5 976.8000000000001 630.5 976.8000000000001L600.5 970.7Q597.5 970.7 597.5 968.7Z" fill="#221e1f" opacity="1"/>
<path d="M641.9 962.0Q641.9 960.0 644.9 960.0L677.8 958.8Q680.8 958.8 680.8 960.8L680.8 970.7Q680.8 972.7 677.8 972.7L644.9 973.3000000000001Q641.9 973.3000000000001 641.9 971.3000000000001Z" fill="#221e1f" opacity="1"/>
<path d="M689.8 962.0Q689.8 960.0 692.8 960.0L726.8 960.3Q729.8 960.3 729.8 962.3L729.8 972.2Q729.8 974.2 726.8 974.2L692.8 972.2Q689.8 972.2 689.8 970.2Z" fill="#221e1f" opacity="1"/>
<path d="M742.8 962.0Q742.8 960.0 745.8 960.0L776.5 959.3Q779.5 959.3 779.5 961.3L779.5 968.7Q779.5 970.7 776.5 970.7L745.8 971.0Q742.8 971.0 742.8 969.0Z" fill="#221e1f" opacity="1"/>
<path d="M790.5 960.8Q790.5 958.8 793.5 958.8L822.7 958.8Q825.7 958.8 825.7 960.8L825.7 964.7Q825.7 966.7 822.7 966.7L793.5 966.7Q790.5 966.7 790.5 964.7Z" fill="#221e1f" opacity="0.18"/>
<path d="M835.8 963.3Q835.8 961.3 838.8 961.3L871.1 961.3Q874.1 961.3 874.1 963.3L874.1 967.2Q874.1 969.2 871.1 969.2L838.8 969.2Q835.8 969.2 835.8 967.2Z" fill="#221e1f" opacity="0.2"/>
<path d="M884.8 963.3Q884.8 961.3 887.8 961.3L917 961.3Q920 961.3 920 963.3L920 967.0Q920 969.0 917 969.0L887.8 968.5Q884.8 968.5 884.8 966.5Z" fill="#221e1f" opacity="0.33"/>
<path d="M932 958.4Q932 956.4 935 956.4L964.8 956.4Q967.8 956.4 967.8 958.4L967.8 962.4000000000001Q967.8 964.4000000000001 964.8 964.4000000000001L935 964.9000000000001Q932 964.9000000000001 932 962.9000000000001Z" fill="#221e1f" opacity="0.55"/>
<path d="M372.5 939 Q389 953 372.5 967.5" stroke="#3a3536" stroke-width="4" fill="none" opacity="0.75"/>
<ellipse cx="375.5" cy="988" rx="3" ry="2.5" fill="#3a3536" opacity="0.6"/>
</g>
<g filter="url(#blur2)">
<rect x="384.0" y="1028" width="50.5" height="23" rx="11" ry="10" fill="#221e1f"/>
<rect x="431.5" y="1028.5" width="56.4" height="24" rx="11" ry="10" fill="#221e1f"/>
<rect x="484.9" y="1030" width="54.4" height="24" rx="11" ry="10" fill="#221e1f"/>
<rect x="536.3" y="1030.5" width="48.5" height="22" rx="11" ry="10" fill="#221e1f"/>
<rect x="581.8" y="1030" width="50.4" height="22" rx="11" ry="10" fill="#221e1f"/>
<rect x="629.2" y="1028" width="50.5" height="22.5" rx="11" ry="10" fill="#221e1f"/>
<rect x="676.7" y="1026.7" width="54.4" height="22.9" rx="11" ry="10" fill="#221e1f"/>
<rect x="728.1" y="1027.8" width="52.4" height="22.9" rx="11" ry="10" fill="#221e1f"/>
<rect x="777.5" y="1023.4000000000001" width="48.6" height="21.8" rx="11" ry="10" fill="#221e1f"/>
<rect x="823.1" y="1024.5" width="54.4" height="22.9" rx="11" ry="10" fill="#221e1f"/>
<rect x="874.5" y="1021.2" width="48.5" height="24" rx="11" ry="10" fill="#221e1f"/>
<rect x="923.9" y="1019" width="50.6" height="20.7" rx="11" ry="10" fill="#221e1f"/>
<path d="M371 1027 L383 1031 L371 1034Z" fill="#2c2829" opacity="0.7"/>
</g>
<rect x="369.5" y="929" width="623.5" height="67" fill="none" stroke="#1b1b1b" stroke-width="2"/>
<rect x="369.5" y="1010.5" width="623.5" height="67.5" fill="none" stroke="#1b1b1b" stroke-width="2"/>
<line x1="993.5" y1="938" x2="1004.5" y2="938" stroke="#111" stroke-width="2" />
<line x1="993.5" y1="1017.8" x2="1004.5" y2="1017.8" stroke="#111" stroke-width="2" />
<text transform="translate(1011.5 954) scale(1 1.02)" font-size="30" text-anchor="start" >97</text>
<text transform="translate(1011.5 1032.5) scale(1 1.02)" font-size="30" text-anchor="start" >39</text>
<text transform="translate(353.5 973) scale(1 1.02)" font-size="30" text-anchor="end" >ALC<tspan font-family="NanumGothic, Liberation Sans, sans-serif" font-size="27.90" dx="0.90" letter-spacing="-1.13">1</tspan></text>
<text transform="translate(351.5 1044) scale(1 1.02)" font-size="30" text-anchor="end" >GAPDH</text>
<line x1="410.3" y1="1092.3" x2="586.5" y2="1092.3" stroke="#111" stroke-width="4" />
<line x1="622.8" y1="1092.3" x2="976" y2="1092.3" stroke="#111" stroke-width="4" />
<text transform="translate(495.5 1133.7) scale(1 1.02)" font-size="35.1" text-anchor="middle" >SUM<tspan font-family="NanumGothic, Liberation Sans, sans-serif" font-size="32.64" dx="1.05" letter-spacing="-1.32">1</tspan>49PT</text>
<text transform="translate(486.5 1175) scale(1 1.02)" font-size="35.1" text-anchor="middle" >cells in</text>
<text transform="translate(486 1216.5) scale(1 1.02)" font-size="35.1" text-anchor="middle" >culture</text>
<text transform="translate(791 1133.7) scale(1 1.02)" font-size="35.1" text-anchor="middle" >Tumor samples</text>
<text transform="translate(778.3 1258) scale(1 1.02)" font-size="43.9" text-anchor="start" >UWB<tspan font-family="NanumGothic, Liberation Sans, sans-serif" font-size="40.83" dx="1.32" letter-spacing="-1.65">1</tspan>.289 (+<tspan font-style="italic">BRCA<tspan font-family="NanumGothic, Liberation Sans, sans-serif" font-size="40.83" dx="-4.39" letter-spacing="4.06">1</tspan></tspan> addback)</text>
<line x1="96" y1="1290" x2="2060" y2="1290" stroke="#111" stroke-width="2" />
<text transform="translate(19 1310.5) scale(1 1.02)" font-size="49" text-anchor="start" font-weight="bold">c</text>
<line x1="122" y1="1368.8" x2="122" y2="1780" stroke="#262626" stroke-width="1.7" />
<line x1="121.2" y1="1779.3" x2="568.3" y2="1779.3" stroke="#262626" stroke-width="1.7" />
<line x1="115" y1="1369.5" x2="122" y2="1369.5" stroke="#262626" stroke-width="1.6" />
<text transform="translate(112.7 1375.8) scale(1 1.02)" font-size="30" text-anchor="end" ><tspan font-family="NanumGothic, Liberation Sans, sans-serif" font-size="27.90" dx="0.90" letter-spacing="-1.13">1</tspan></text>
<line x1="115" y1="1437.8" x2="122" y2="1437.8" stroke="#262626" stroke-width="1.6" />
<text transform="translate(112.7 1444.1) scale(1 1.02)" font-size="30" text-anchor="end" >0</text>
<line x1="115" y1="1506.1" x2="122" y2="1506.1" stroke="#262626" stroke-width="1.6" />
<text transform="translate(112.7 1512.4) scale(1 1.02)" font-size="30" text-anchor="end" >-<tspan font-family="NanumGothic, Liberation Sans, sans-serif" font-size="27.90" dx="0.90" letter-spacing="-1.13">1</tspan></text>
<line x1="115" y1="1574.4" x2="122" y2="1574.4" stroke="#262626" stroke-width="1.6" />
<text transform="translate(112.7 1580.7) scale(1 1.02)" font-size="30" text-anchor="end" >-2</text>
<line x1="115" y1="1642.7" x2="122" y2="1642.7" stroke="#262626" stroke-width="1.6" />
<text transform="translate(112.7 1649) scale(1 1.02)" font-size="30" text-anchor="end" >-3</text>
<line x1="115" y1="1711" x2="122" y2="1711" stroke="#262626" stroke-width="1.6" />
<text transform="translate(112.7 1717.3) scale(1 1.02)" font-size="30" text-anchor="end" >-4</text>
<line x1="115" y1="1779.3" x2="122" y2="1779.3" stroke="#262626" stroke-width="1.6" />
<text transform="translate(112.7 1785.6) scale(1 1.02)" font-size="30" text-anchor="end" >-5</text>
<line x1="211.1" y1="1779.3" x2="211.1" y2="1786.9" stroke="#262626" stroke-width="1.6" />
<text transform="translate(212.6 1815.4) scale(1 1.02)" font-size="30" text-anchor="middle" >P<tspan font-family="NanumGothic, Liberation Sans, sans-serif" font-size="27.90" dx="0.90" letter-spacing="-1.13">1</tspan></text>
<line x1="329.9" y1="1779.3" x2="329.9" y2="1786.9" stroke="#262626" stroke-width="1.6" />
<text transform="translate(331.4 1815.4) scale(1 1.02)" font-size="30" text-anchor="middle" >P3</text>
<line x1="448.7" y1="1779.3" x2="448.7" y2="1786.9" stroke="#262626" stroke-width="1.6" />
<text transform="translate(450.2 1815.4) scale(1 1.02)" font-size="30" text-anchor="middle" >P5</text>
<line x1="567.5" y1="1779.3" x2="567.5" y2="1786.9" stroke="#262626" stroke-width="1.6" />
<text transform="translate(569 1815.4) scale(1 1.02)" font-size="30" text-anchor="middle" >P7</text>
<text transform="translate(310 1372.5) scale(1 1.02)" font-size="35.1" text-anchor="middle" >Sp: sg<tspan font-style="italic">MUS8<tspan font-family="NanumGothic, Liberation Sans, sans-serif" font-size="32.64" dx="-3.51" letter-spacing="3.24">1</tspan></tspan></text>
<path d="M211.1 1457.61V1461.7M203.8 1457.61H218.4M203.8 1461.7H218.4" stroke="#34479a" stroke-width="1.5" fill="none"/>
<path d="M270.5 1495.17V1503.37M263.2 1495.17H277.8M263.2 1503.37H277.8" stroke="#34479a" stroke-width="1.5" fill="none"/>
<path d="M329.9 1517.71V1562.79M322.6 1517.71H337.2M322.6 1562.79H337.2" stroke="#34479a" stroke-width="1.5" fill="none"/>
<path d="M389.3 1553.23V1576.45M382 1553.23H396.6M382 1576.45H396.6" stroke="#34479a" stroke-width="1.5" fill="none"/>
<path d="M448.7 1551.18V1619.48M441.4 1551.18H456M441.4 1619.48H456" stroke="#34479a" stroke-width="1.5" fill="none"/>
<path d="M508.1 1601.72V1653.63M500.8 1601.72H515.4M500.8 1653.63H515.4" stroke="#34479a" stroke-width="1.5" fill="none"/>
<path d="M567.5 1656.36V1700.07M560.2 1656.36H574.8M560.2 1700.07H574.8" stroke="#34479a" stroke-width="1.5" fill="none"/>
<path d="M151.7 1437.8 L211.1 1459.7 L270.5 1499.3 L329.9 1540.2 L389.3 1564.8 L448.7 1585.3 L508.1 1627.7 L567.5 1678.2" stroke="#2c3f98" stroke-width="2.8" fill="none" stroke-linejoin="round"/>
<circle cx="151.7" cy="1437.8" r="6.75" fill="#2f47a6" stroke="#1e1e1e" stroke-width="1.3"/>
<circle cx="211.1" cy="1459.66" r="6.75" fill="#2f47a6" stroke="#1e1e1e" stroke-width="1.3"/>
<circle cx="270.5" cy="1499.27" r="6.75" fill="#2f47a6" stroke="#1e1e1e" stroke-width="1.3"/>
<circle cx="329.9" cy="1540.25" r="6.75" fill="#2f47a6" stroke="#1e1e1e" stroke-width="1.3"/>
<circle cx="389.3" cy="1564.84" r="6.75" fill="#2f47a6" stroke="#1e1e1e" stroke-width="1.3"/>
<circle cx="448.7" cy="1585.33" r="6.75" fill="#2f47a6" stroke="#1e1e1e" stroke-width="1.3"/>
<circle cx="508.1" cy="1627.67" r="6.75" fill="#2f47a6" stroke="#1e1e1e" stroke-width="1.3"/>
<circle cx="567.5" cy="1678.22" r="6.75" fill="#2f47a6" stroke="#1e1e1e" stroke-width="1.3"/>
<path d="M270.5 1490.39V1497.22M263.2 1490.39H277.8M263.2 1497.22H277.8" stroke="#3d88cb" stroke-width="1.5" fill="none"/>
<path d="M329.9 1510.2V1521.13M322.6 1510.2H337.2M322.6 1521.13H337.2" stroke="#3d88cb" stroke-width="1.5" fill="none"/>
<path d="M389.3 1530.69V1544.35M382 1530.69H396.6M382 1544.35H396.6" stroke="#3d88cb" stroke-width="1.5" fill="none"/>
<path d="M448.7 1551.18V1573.03M441.4 1551.18H456M441.4 1573.03H456" stroke="#3d88cb" stroke-width="1.5" fill="none"/>
<path d="M508.1 1586.01V1609.23M500.8 1586.01H515.4M500.8 1609.23H515.4" stroke="#3d88cb" stroke-width="1.5" fill="none"/>
<path d="M567.5 1596.26V1631.77M560.2 1596.26H574.8M560.2 1631.77H574.8" stroke="#3d88cb" stroke-width="1.5" fill="none"/>
<path d="M151.7 1437.8 L211.1 1458.3 L270.5 1493.8 L329.9 1515.7 L389.3 1537.5 L448.7 1562.1 L508.1 1597.6 L567.5 1614.0" stroke="#3d88cb" stroke-width="2.8" fill="none" stroke-linejoin="round"/>
<circle cx="151.7" cy="1437.8" r="6.75" fill="#3f8ed4" stroke="#1e1e1e" stroke-width="1.3"/>
<circle cx="211.1" cy="1458.29" r="6.75" fill="#3f8ed4" stroke="#1e1e1e" stroke-width="1.3"/>
<circle cx="270.5" cy="1493.81" r="6.75" fill="#3f8ed4" stroke="#1e1e1e" stroke-width="1.3"/>
<circle cx="329.9" cy="1515.66" r="6.75" fill="#3f8ed4" stroke="#1e1e1e" stroke-width="1.3"/>
<circle cx="389.3" cy="1537.52" r="6.75" fill="#3f8ed4" stroke="#1e1e1e" stroke-width="1.3"/>
<circle cx="448.7" cy="1562.11" r="6.75" fill="#3f8ed4" stroke="#1e1e1e" stroke-width="1.3"/>
<circle cx="508.1" cy="1597.62" r="6.75" fill="#3f8ed4" stroke="#1e1e1e" stroke-width="1.3"/>
<circle cx="567.5" cy="1614.01" r="6.75" fill="#3f8ed4" stroke="#1e1e1e" stroke-width="1.3"/>
<path d="M270.5 1492.44V1500.64M263.2 1492.44H277.8M263.2 1500.64H277.8" stroke="#3c3c3c" stroke-width="1.5" fill="none"/>
<path d="M329.9 1528.64V1539.57M322.6 1528.64H337.2M322.6 1539.57H337.2" stroke="#3c3c3c" stroke-width="1.5" fill="none"/>
<path d="M389.3 1554.59V1575.08M382 1554.59H396.6M382 1575.08H396.6" stroke="#3c3c3c" stroke-width="1.5" fill="none"/>
<path d="M448.7 1575.08V1611.96M441.4 1575.08H456M441.4 1611.96H456" stroke="#3c3c3c" stroke-width="1.5" fill="none"/>
<path d="M508.1 1609.23V1629.72M500.8 1609.23H515.4M500.8 1629.72H515.4" stroke="#3c3c3c" stroke-width="1.5" fill="none"/>
<path d="M567.5 1631.77V1650.9M560.2 1631.77H574.8M560.2 1650.9H574.8" stroke="#3c3c3c" stroke-width="1.5" fill="none"/>
<path d="M151.7 1437.8 L211.1 1459.7 L270.5 1496.5 L329.9 1534.1 L389.3 1564.8 L448.7 1593.5 L508.1 1619.5 L567.5 1641.3" stroke="#3c3c3c" stroke-width="2.8" fill="none" stroke-linejoin="round"/>
<circle cx="151.7" cy="1437.8" r="6.75" fill="#474747" stroke="#1e1e1e" stroke-width="1.3"/>
<circle cx="211.1" cy="1459.66" r="6.75" fill="#474747" stroke="#1e1e1e" stroke-width="1.3"/>
<circle cx="270.5" cy="1496.54" r="6.75" fill="#474747" stroke="#1e1e1e" stroke-width="1.3"/>
<circle cx="329.9" cy="1534.1" r="6.75" fill="#474747" stroke="#1e1e1e" stroke-width="1.3"/>
<circle cx="389.3" cy="1564.84" r="6.75" fill="#474747" stroke="#1e1e1e" stroke-width="1.3"/>
<circle cx="448.7" cy="1593.52" r="6.75" fill="#474747" stroke="#1e1e1e" stroke-width="1.3"/>
<circle cx="508.1" cy="1619.48" r="6.75" fill="#474747" stroke="#1e1e1e" stroke-width="1.3"/>
<circle cx="567.5" cy="1641.33" r="6.75" fill="#474747" stroke="#1e1e1e" stroke-width="1.3"/>
<path d="M270.5 1486.29V1490.39M263.2 1486.29H277.8M263.2 1490.39H277.8" stroke="#555555" stroke-width="1.5" fill="none"/>
<path d="M329.9 1507.47V1514.3M322.6 1507.47H337.2M322.6 1514.3H337.2" stroke="#555555" stroke-width="1.5" fill="none"/>
<path d="M389.3 1519.76V1527.96M382 1519.76H396.6M382 1527.96H396.6" stroke="#555555" stroke-width="1.5" fill="none"/>
<path d="M448.7 1534.1V1538.2M441.4 1534.1H456M441.4 1538.2H456" stroke="#555555" stroke-width="1.5" fill="none"/>
<path d="M508.1 1549.13V1555.96M500.8 1549.13H515.4M500.8 1555.96H515.4" stroke="#555555" stroke-width="1.5" fill="none"/>
<path d="M567.5 1564.15V1568.25M560.2 1564.15H574.8M560.2 1568.25H574.8" stroke="#555555" stroke-width="1.5" fill="none"/>
<path d="M151.7 1437.8 L211.1 1452.1 L270.5 1488.3 L329.9 1510.9 L389.3 1523.9 L448.7 1536.2 L508.1 1552.5 L567.5 1566.2" stroke="#a8a8a8" stroke-width="2.8" fill="none" stroke-linejoin="round"/>
<circle cx="151.7" cy="1437.8" r="6.75" fill="#b5b5b5" stroke="#1e1e1e" stroke-width="1.3"/>
<circle cx="211.1" cy="1452.14" r="6.75" fill="#b5b5b5" stroke="#1e1e1e" stroke-width="1.3"/>
<circle cx="270.5" cy="1488.34" r="6.75" fill="#b5b5b5" stroke="#1e1e1e" stroke-width="1.3"/>
<circle cx="329.9" cy="1510.88" r="6.75" fill="#b5b5b5" stroke="#1e1e1e" stroke-width="1.3"/>
<circle cx="389.3" cy="1523.86" r="6.75" fill="#b5b5b5" stroke="#1e1e1e" stroke-width="1.3"/>
<circle cx="448.7" cy="1536.15" r="6.75" fill="#b5b5b5" stroke="#1e1e1e" stroke-width="1.3"/>
<circle cx="508.1" cy="1552.54" r="6.75" fill="#b5b5b5" stroke="#1e1e1e" stroke-width="1.3"/>
<circle cx="567.5" cy="1566.2" r="6.75" fill="#b5b5b5" stroke="#1e1e1e" stroke-width="1.3"/>
<line x1="625" y1="1366.4" x2="625" y2="1778.8" stroke="#262626" stroke-width="1.7" />
<line x1="624.2" y1="1778.1" x2="1072.8" y2="1778.1" stroke="#262626" stroke-width="1.7" />
<line x1="618" y1="1367.1" x2="625" y2="1367.1" stroke="#262626" stroke-width="1.6" />
<text transform="translate(618.5 1375.7) scale(1 1.02)" font-size="30" text-anchor="end" ><tspan font-family="NanumGothic, Liberation Sans, sans-serif" font-size="27.90" dx="0.90" letter-spacing="-1.13">1</tspan></text>
<line x1="618" y1="1435.6" x2="625" y2="1435.6" stroke="#262626" stroke-width="1.6" />
<text transform="translate(618.5 1444.2) scale(1 1.02)" font-size="30" text-anchor="end" >0</text>
<line x1="618" y1="1504.1" x2="625" y2="1504.1" stroke="#262626" stroke-width="1.6" />
<text transform="translate(618.5 1512.7) scale(1 1.02)" font-size="30" text-anchor="end" >-<tspan font-family="NanumGothic, Liberation Sans, sans-serif" font-size="27.90" dx="0.90" letter-spacing="-1.13">1</tspan></text>
<line x1="618" y1="1572.6" x2="625" y2="1572.6" stroke="#262626" stroke-width="1.6" />
<text transform="translate(618.5 1581.2) scale(1 1.02)" font-size="30" text-anchor="end" >-2</text>
<line x1="618" y1="1641.1" x2="625" y2="1641.1" stroke="#262626" stroke-width="1.6" />
<text transform="translate(618.5 1649.7) scale(1 1.02)" font-size="30" text-anchor="end" >-3</text>
<line x1="618" y1="1709.6" x2="625" y2="1709.6" stroke="#262626" stroke-width="1.6" />
<text transform="translate(618.5 1718.2) scale(1 1.02)" font-size="30" text-anchor="end" >-4</text>
<line x1="618" y1="1778.1" x2="625" y2="1778.1" stroke="#262626" stroke-width="1.6" />
<text transform="translate(618.5 1786.7) scale(1 1.02)" font-size="30" text-anchor="end" >-5</text>
<line x1="715" y1="1778.1" x2="715" y2="1785.7" stroke="#262626" stroke-width="1.6" />
<text transform="translate(716.5 1814.2) scale(1 1.02)" font-size="30" text-anchor="middle" >P<tspan font-family="NanumGothic, Liberation Sans, sans-serif" font-size="27.90" dx="0.90" letter-spacing="-1.13">1</tspan></text>
<line x1="834" y1="1778.1" x2="834" y2="1785.7" stroke="#262626" stroke-width="1.6" />
<text transform="translate(835.5 1814.2) scale(1 1.02)" font-size="30" text-anchor="middle" >P3</text>
<line x1="953" y1="1778.1" x2="953" y2="1785.7" stroke="#262626" stroke-width="1.6" />
<text transform="translate(954.5 1814.2) scale(1 1.02)" font-size="30" text-anchor="middle" >P5</text>
<line x1="1072" y1="1778.1" x2="1072" y2="1785.7" stroke="#262626" stroke-width="1.6" />
<text transform="translate(1073.5 1814.2) scale(1 1.02)" font-size="30" text-anchor="middle" >P7</text>
<text transform="translate(834 1372.5) scale(1 1.02)" font-size="35.1" text-anchor="middle" >Sp: sg<tspan font-style="italic">BLM</tspan></text>
<path d="M715 1465.74V1469.85M707.7 1465.74H722.3M707.7 1469.85H722.3" stroke="#34479a" stroke-width="1.5" fill="none"/>
<path d="M774.5 1522.59V1543.14M767.2 1522.59H781.8M767.2 1543.14H781.8" stroke="#34479a" stroke-width="1.5" fill="none"/>
<path d="M834 1590.41V1594.52M826.7 1590.41H841.3M826.7 1594.52H841.3" stroke="#34479a" stroke-width="1.5" fill="none"/>
<path d="M893.5 1647.95V1652.06M886.2 1647.95H900.8M886.2 1652.06H900.8" stroke="#34479a" stroke-width="1.5" fill="none"/>
<path d="M953 1636.3V1681.51M945.7 1636.3H960.3M945.7 1681.51H960.3" stroke="#34479a" stroke-width="1.5" fill="none"/>
<path d="M1012.5 1624.66V1717.82M1005.2 1624.66H1019.8M1005.2 1717.82H1019.8" stroke="#34479a" stroke-width="1.5" fill="none"/>
<path d="M1072 1648.63V1755.5M1064.7 1648.63H1079.3M1064.7 1755.5H1079.3" stroke="#34479a" stroke-width="1.5" fill="none"/>
<path d="M655.5 1435.6 L715.0 1467.8 L774.5 1532.9 L834.0 1592.5 L893.5 1650.0 L953.0 1658.9 L1012.5 1671.2 L1072.0 1702.1" stroke="#2c3f98" stroke-width="2.8" fill="none" stroke-linejoin="round"/>
<circle cx="655.5" cy="1435.6" r="6.75" fill="#2f47a6" stroke="#1e1e1e" stroke-width="1.3"/>
<circle cx="715" cy="1467.79" r="6.75" fill="#2f47a6" stroke="#1e1e1e" stroke-width="1.3"/>
<circle cx="774.5" cy="1532.87" r="6.75" fill="#2f47a6" stroke="#1e1e1e" stroke-width="1.3"/>
<circle cx="834" cy="1592.46" r="6.75" fill="#2f47a6" stroke="#1e1e1e" stroke-width="1.3"/>
<circle cx="893.5" cy="1650" r="6.75" fill="#2f47a6" stroke="#1e1e1e" stroke-width="1.3"/>
<circle cx="953" cy="1658.91" r="6.75" fill="#2f47a6" stroke="#1e1e1e" stroke-width="1.3"/>
<circle cx="1012.5" cy="1671.24" r="6.75" fill="#2f47a6" stroke="#1e1e1e" stroke-width="1.3"/>
<circle cx="1072" cy="1702.07" r="6.75" fill="#2f47a6" stroke="#1e1e1e" stroke-width="1.3"/>
<path d="M715 1447.24V1458.2M707.7 1447.24H722.3M707.7 1458.2H722.3" stroke="#3d88cb" stroke-width="1.5" fill="none"/>
<path d="M774.5 1480.81V1491.77M767.2 1480.81H781.8M767.2 1491.77H781.8" stroke="#3d88cb" stroke-width="1.5" fill="none"/>
<path d="M834 1522.59V1533.55M826.7 1522.59H841.3M826.7 1533.55H841.3" stroke="#3d88cb" stroke-width="1.5" fill="none"/>
<path d="M893.5 1564.38V1571.23M886.2 1564.38H900.8M886.2 1571.23H900.8" stroke="#3d88cb" stroke-width="1.5" fill="none"/>
<path d="M953 1580.13V1604.79M945.7 1580.13H960.3M945.7 1604.79H960.3" stroke="#3d88cb" stroke-width="1.5" fill="none"/>
<path d="M1012.5 1597.94V1645.89M1005.2 1597.94H1019.8M1005.2 1645.89H1019.8" stroke="#3d88cb" stroke-width="1.5" fill="none"/>
<path d="M1072 1598.63V1660.28M1064.7 1598.63H1079.3M1064.7 1660.28H1079.3" stroke="#3d88cb" stroke-width="1.5" fill="none"/>
<path d="M655.5 1435.6 L715.0 1452.7 L774.5 1486.3 L834.0 1528.1 L893.5 1567.8 L953.0 1592.5 L1012.5 1621.9 L1072.0 1629.5" stroke="#3d88cb" stroke-width="2.8" fill="none" stroke-linejoin="round"/>
<circle cx="655.5" cy="1435.6" r="6.75" fill="#3f8ed4" stroke="#1e1e1e" stroke-width="1.3"/>
<circle cx="715" cy="1452.72" r="6.75" fill="#3f8ed4" stroke="#1e1e1e" stroke-width="1.3"/>
<circle cx="774.5" cy="1486.29" r="6.75" fill="#3f8ed4" stroke="#1e1e1e" stroke-width="1.3"/>
<circle cx="834" cy="1528.07" r="6.75" fill="#3f8ed4" stroke="#1e1e1e" stroke-width="1.3"/>
<circle cx="893.5" cy="1567.8" r="6.75" fill="#3f8ed4" stroke="#1e1e1e" stroke-width="1.3"/>
<circle cx="953" cy="1592.46" r="6.75" fill="#3f8ed4" stroke="#1e1e1e" stroke-width="1.3"/>
<circle cx="1012.5" cy="1621.92" r="6.75" fill="#3f8ed4" stroke="#1e1e1e" stroke-width="1.3"/>
<circle cx="1072" cy="1629.45" r="6.75" fill="#3f8ed4" stroke="#1e1e1e" stroke-width="1.3"/>
<path d="M715 1467.11V1471.22M707.7 1467.11H722.3M707.7 1471.22H722.3" stroke="#3c3c3c" stroke-width="1.5" fill="none"/>
<path d="M774.5 1496.56V1507.52M767.2 1496.56H781.8M767.2 1507.52H781.8" stroke="#3c3c3c" stroke-width="1.5" fill="none"/>
<path d="M834 1530.13V1553.42M826.7 1530.13H841.3M826.7 1553.42H841.3" stroke="#3c3c3c" stroke-width="1.5" fill="none"/>
<path d="M893.5 1573.97V1582.19M886.2 1573.97H900.8M886.2 1582.19H900.8" stroke="#3c3c3c" stroke-width="1.5" fill="none"/>
<path d="M953 1599.32V1629.45M945.7 1599.32H960.3M945.7 1629.45H960.3" stroke="#3c3c3c" stroke-width="1.5" fill="none"/>
<path d="M1012.5 1600.68V1630.82M1005.2 1600.68H1019.8M1005.2 1630.82H1019.8" stroke="#3c3c3c" stroke-width="1.5" fill="none"/>
<path d="M1072 1608.22V1652.06M1064.7 1608.22H1079.3M1064.7 1652.06H1079.3" stroke="#3c3c3c" stroke-width="1.5" fill="none"/>
<path d="M655.5 1435.6 L715.0 1469.2 L774.5 1502.0 L834.0 1541.8 L893.5 1578.1 L953.0 1614.4 L1012.5 1615.8 L1072.0 1630.1" stroke="#3c3c3c" stroke-width="2.8" fill="none" stroke-linejoin="round"/>
<circle cx="655.5" cy="1435.6" r="6.75" fill="#474747" stroke="#1e1e1e" stroke-width="1.3"/>
<circle cx="715" cy="1469.16" r="6.75" fill="#474747" stroke="#1e1e1e" stroke-width="1.3"/>
<circle cx="774.5" cy="1502.04" r="6.75" fill="#474747" stroke="#1e1e1e" stroke-width="1.3"/>
<circle cx="834" cy="1541.77" r="6.75" fill="#474747" stroke="#1e1e1e" stroke-width="1.3"/>
<circle cx="893.5" cy="1578.08" r="6.75" fill="#474747" stroke="#1e1e1e" stroke-width="1.3"/>
<circle cx="953" cy="1614.38" r="6.75" fill="#474747" stroke="#1e1e1e" stroke-width="1.3"/>
<circle cx="1012.5" cy="1615.75" r="6.75" fill="#474747" stroke="#1e1e1e" stroke-width="1.3"/>
<circle cx="1072" cy="1630.14" r="6.75" fill="#474747" stroke="#1e1e1e" stroke-width="1.3"/>
<path d="M774.5 1496.57V1503.41M767.2 1496.57H781.8M767.2 1503.41H781.8" stroke="#555555" stroke-width="1.5" fill="none"/>
<path d="M834 1533.56V1541.77M826.7 1533.56H841.3M826.7 1541.77H841.3" stroke="#555555" stroke-width="1.5" fill="none"/>
<path d="M893.5 1570.54V1580.13M886.2 1570.54H900.8M886.2 1580.13H900.8" stroke="#555555" stroke-width="1.5" fill="none"/>
<path d="M953 1592.46V1603.42M945.7 1592.46H960.3M945.7 1603.42H960.3" stroke="#555555" stroke-width="1.5" fill="none"/>
<path d="M1012.5 1607.54V1621.23M1005.2 1607.54H1019.8M1005.2 1621.23H1019.8" stroke="#555555" stroke-width="1.5" fill="none"/>
<path d="M1072 1621.92V1638.36M1064.7 1621.92H1079.3M1064.7 1638.36H1079.3" stroke="#555555" stroke-width="1.5" fill="none"/>
<path d="M655.5 1435.6 L715.0 1462.3 L774.5 1500.0 L834.0 1537.7 L893.5 1575.3 L953.0 1597.9 L1012.5 1614.4 L1072.0 1630.1" stroke="#a8a8a8" stroke-width="2.8" fill="none" stroke-linejoin="round"/>
<circle cx="655.5" cy="1435.6" r="6.75" fill="#b5b5b5" stroke="#1e1e1e" stroke-width="1.3"/>
<circle cx="715" cy="1462.31" r="6.75" fill="#b5b5b5" stroke="#1e1e1e" stroke-width="1.3"/>
<circle cx="774.5" cy="1499.99" r="6.75" fill="#b5b5b5" stroke="#1e1e1e" stroke-width="1.3"/>
<circle cx="834" cy="1537.66" r="6.75" fill="#b5b5b5" stroke="#1e1e1e" stroke-width="1.3"/>
<circle cx="893.5" cy="1575.34" r="6.75" fill="#b5b5b5" stroke="#1e1e1e" stroke-width="1.3"/>
<circle cx="953" cy="1597.94" r="6.75" fill="#b5b5b5" stroke="#1e1e1e" stroke-width="1.3"/>
<circle cx="1012.5" cy="1614.38" r="6.75" fill="#b5b5b5" stroke="#1e1e1e" stroke-width="1.3"/>
<circle cx="1072" cy="1630.14" r="6.75" fill="#b5b5b5" stroke="#1e1e1e" stroke-width="1.3"/>
<line x1="1125.9" y1="1368.3" x2="1125.9" y2="1780.7" stroke="#262626" stroke-width="1.7" />
<line x1="1125.1" y1="1780" x2="1573.15" y2="1780" stroke="#262626" stroke-width="1.7" />
<line x1="1118.9" y1="1369" x2="1125.9" y2="1369" stroke="#262626" stroke-width="1.6" />
<text transform="translate(1114.7 1375.3) scale(1 1.02)" font-size="30" text-anchor="end" ><tspan font-family="NanumGothic, Liberation Sans, sans-serif" font-size="27.90" dx="0.90" letter-spacing="-1.13">1</tspan></text>
<line x1="1118.9" y1="1437.5" x2="1125.9" y2="1437.5" stroke="#262626" stroke-width="1.6" />
<text transform="translate(1114.7 1443.8) scale(1 1.02)" font-size="30" text-anchor="end" >0</text>
<line x1="1118.9" y1="1506" x2="1125.9" y2="1506" stroke="#262626" stroke-width="1.6" />
<text transform="translate(1114.7 1512.3) scale(1 1.02)" font-size="30" text-anchor="end" >-<tspan font-family="NanumGothic, Liberation Sans, sans-serif" font-size="27.90" dx="0.90" letter-spacing="-1.13">1</tspan></text>
<line x1="1118.9" y1="1574.5" x2="1125.9" y2="1574.5" stroke="#262626" stroke-width="1.6" />
<text transform="translate(1114.7 1580.8) scale(1 1.02)" font-size="30" text-anchor="end" >-2</text>
<line x1="1118.9" y1="1643" x2="1125.9" y2="1643" stroke="#262626" stroke-width="1.6" />
<text transform="translate(1114.7 1649.3) scale(1 1.02)" font-size="30" text-anchor="end" >-3</text>
<line x1="1118.9" y1="1711.5" x2="1125.9" y2="1711.5" stroke="#262626" stroke-width="1.6" />
<text transform="translate(1114.7 1717.8) scale(1 1.02)" font-size="30" text-anchor="end" >-4</text>
<line x1="1118.9" y1="1780" x2="1125.9" y2="1780" stroke="#262626" stroke-width="1.6" />
<text transform="translate(1114.7 1786.3) scale(1 1.02)" font-size="30" text-anchor="end" >-5</text>
<line x1="1215.05" y1="1780" x2="1215.05" y2="1787.6" stroke="#262626" stroke-width="1.6" />
<text transform="translate(1216.55 1816.1) scale(1 1.02)" font-size="30" text-anchor="middle" >P<tspan font-family="NanumGothic, Liberation Sans, sans-serif" font-size="27.90" dx="0.90" letter-spacing="-1.13">1</tspan></text>
<line x1="1334.15" y1="1780" x2="1334.15" y2="1787.6" stroke="#262626" stroke-width="1.6" />
<text transform="translate(1335.65 1816.1) scale(1 1.02)" font-size="30" text-anchor="middle" >P3</text>
<line x1="1453.25" y1="1780" x2="1453.25" y2="1787.6" stroke="#262626" stroke-width="1.6" />
<text transform="translate(1454.75 1816.1) scale(1 1.02)" font-size="30" text-anchor="middle" >P5</text>
<line x1="1572.35" y1="1780" x2="1572.35" y2="1787.6" stroke="#262626" stroke-width="1.6" />
<text transform="translate(1573.85 1816.1) scale(1 1.02)" font-size="30" text-anchor="middle" >P7</text>
<text transform="translate(1355.5 1372.5) scale(1 1.02)" font-size="35.1" text-anchor="middle" >Sp: sg<tspan font-style="italic">53BP<tspan font-family="NanumGothic, Liberation Sans, sans-serif" font-size="32.64" dx="-3.51" letter-spacing="3.24">1</tspan></tspan></text>
<path d="M1274.6 1462.85V1466.96M1267.3 1462.85H1281.9M1267.3 1466.96H1281.9" stroke="#34479a" stroke-width="1.5" fill="none"/>
<path d="M1334.15 1459.42V1463.53M1326.85 1459.42H1341.45M1326.85 1463.53H1341.45" stroke="#34479a" stroke-width="1.5" fill="none"/>
<path d="M1393.7 1478.6V1484.08M1386.4 1478.6H1401M1386.4 1484.08H1401" stroke="#34479a" stroke-width="1.5" fill="none"/>
<path d="M1453.25 1467.64V1481.34M1445.95 1467.64H1460.55M1445.95 1481.34H1460.55" stroke="#34479a" stroke-width="1.5" fill="none"/>
<path d="M1512.8 1475.86V1489.56M1505.5 1475.86H1520.1M1505.5 1489.56H1520.1" stroke="#34479a" stroke-width="1.5" fill="none"/>
<path d="M1572.35 1481.34V1490.93M1565.05 1481.34H1579.65M1565.05 1490.93H1579.65" stroke="#34479a" stroke-width="1.5" fill="none"/>
<path d="M1155.5 1437.5 L1215.0 1445.0 L1274.6 1464.9 L1334.2 1461.5 L1393.7 1481.3 L1453.2 1474.5 L1512.8 1482.7 L1572.3 1486.1" stroke="#2c3f98" stroke-width="2.8" fill="none" stroke-linejoin="round"/>
<circle cx="1155.5" cy="1437.5" r="6.75" fill="#2f47a6" stroke="#1e1e1e" stroke-width="1.3"/>
<circle cx="1215.05" cy="1445.04" r="6.75" fill="#2f47a6" stroke="#1e1e1e" stroke-width="1.3"/>
<circle cx="1274.6" cy="1464.9" r="6.75" fill="#2f47a6" stroke="#1e1e1e" stroke-width="1.3"/>
<circle cx="1334.15" cy="1461.47" r="6.75" fill="#2f47a6" stroke="#1e1e1e" stroke-width="1.3"/>
<circle cx="1393.7" cy="1481.34" r="6.75" fill="#2f47a6" stroke="#1e1e1e" stroke-width="1.3"/>
<circle cx="1453.25" cy="1474.49" r="6.75" fill="#2f47a6" stroke="#1e1e1e" stroke-width="1.3"/>
<circle cx="1512.8" cy="1482.71" r="6.75" fill="#2f47a6" stroke="#1e1e1e" stroke-width="1.3"/>
<circle cx="1572.35" cy="1486.13" r="6.75" fill="#2f47a6" stroke="#1e1e1e" stroke-width="1.3"/>
<path d="M1274.6 1463.53V1467.64M1267.3 1463.53H1281.9M1267.3 1467.64H1281.9" stroke="#3d88cb" stroke-width="1.5" fill="none"/>
<path d="M1334.15 1473.12V1479.97M1326.85 1473.12H1341.45M1326.85 1479.97H1341.45" stroke="#3d88cb" stroke-width="1.5" fill="none"/>
<path d="M1393.7 1486.13V1492.98M1386.4 1486.13H1401M1386.4 1492.98H1401" stroke="#3d88cb" stroke-width="1.5" fill="none"/>
<path d="M1453.25 1473.12V1482.71M1445.95 1473.12H1460.55M1445.95 1482.71H1460.55" stroke="#3d88cb" stroke-width="1.5" fill="none"/>
<path d="M1512.8 1479.29V1492.98M1505.5 1479.29H1520.1M1505.5 1492.98H1520.1" stroke="#3d88cb" stroke-width="1.5" fill="none"/>
<path d="M1572.35 1479.97V1489.56M1565.05 1479.97H1579.65M1565.05 1489.56H1579.65" stroke="#3d88cb" stroke-width="1.5" fill="none"/>
<path d="M1155.5 1437.5 L1215.0 1447.8 L1274.6 1465.6 L1334.2 1476.5 L1393.7 1489.6 L1453.2 1477.9 L1512.8 1486.1 L1572.3 1484.8" stroke="#3d88cb" stroke-width="2.8" fill="none" stroke-linejoin="round"/>
<circle cx="1155.5" cy="1437.5" r="6.75" fill="#3f8ed4" stroke="#1e1e1e" stroke-width="1.3"/>
<circle cx="1215.05" cy="1447.78" r="6.75" fill="#3f8ed4" stroke="#1e1e1e" stroke-width="1.3"/>
<circle cx="1274.6" cy="1465.59" r="6.75" fill="#3f8ed4" stroke="#1e1e1e" stroke-width="1.3"/>
<circle cx="1334.15" cy="1476.55" r="6.75" fill="#3f8ed4" stroke="#1e1e1e" stroke-width="1.3"/>
<circle cx="1393.7" cy="1489.56" r="6.75" fill="#3f8ed4" stroke="#1e1e1e" stroke-width="1.3"/>
<circle cx="1453.25" cy="1477.91" r="6.75" fill="#3f8ed4" stroke="#1e1e1e" stroke-width="1.3"/>
<circle cx="1512.8" cy="1486.13" r="6.75" fill="#3f8ed4" stroke="#1e1e1e" stroke-width="1.3"/>
<circle cx="1572.35" cy="1484.77" r="6.75" fill="#3f8ed4" stroke="#1e1e1e" stroke-width="1.3"/>
<path d="M1274.6 1478.6V1482.71M1267.3 1478.6H1281.9M1267.3 1482.71H1281.9" stroke="#3c3c3c" stroke-width="1.5" fill="none"/>
<path d="M1334.15 1489.56V1497.78M1326.85 1489.56H1341.45M1326.85 1497.78H1341.45" stroke="#3c3c3c" stroke-width="1.5" fill="none"/>
<path d="M1393.7 1496.41V1516.96M1386.4 1496.41H1401M1386.4 1516.96H1401" stroke="#3c3c3c" stroke-width="1.5" fill="none"/>
<path d="M1453.25 1512.17V1525.87M1445.95 1512.17H1460.55M1445.95 1525.87H1460.55" stroke="#3c3c3c" stroke-width="1.5" fill="none"/>
<path d="M1512.8 1508.06V1532.71M1505.5 1508.06H1520.1M1505.5 1532.71H1520.1" stroke="#3c3c3c" stroke-width="1.5" fill="none"/>
<path d="M1572.35 1497.78V1527.92M1565.05 1497.78H1579.65M1565.05 1527.92H1579.65" stroke="#3c3c3c" stroke-width="1.5" fill="none"/>
<path d="M1155.5 1437.5 L1215.0 1459.4 L1274.6 1480.7 L1334.2 1493.7 L1393.7 1506.7 L1453.2 1519.0 L1512.8 1520.4 L1572.3 1512.8" stroke="#3c3c3c" stroke-width="2.8" fill="none" stroke-linejoin="round"/>
<circle cx="1155.5" cy="1437.5" r="6.75" fill="#474747" stroke="#1e1e1e" stroke-width="1.3"/>
<circle cx="1215.05" cy="1459.42" r="6.75" fill="#474747" stroke="#1e1e1e" stroke-width="1.3"/>
<circle cx="1274.6" cy="1480.65" r="6.75" fill="#474747" stroke="#1e1e1e" stroke-width="1.3"/>
<circle cx="1334.15" cy="1493.67" r="6.75" fill="#474747" stroke="#1e1e1e" stroke-width="1.3"/>
<circle cx="1393.7" cy="1506.68" r="6.75" fill="#474747" stroke="#1e1e1e" stroke-width="1.3"/>
<circle cx="1453.25" cy="1519.02" r="6.75" fill="#474747" stroke="#1e1e1e" stroke-width="1.3"/>
<circle cx="1512.8" cy="1520.38" r="6.75" fill="#474747" stroke="#1e1e1e" stroke-width="1.3"/>
<circle cx="1572.35" cy="1512.85" r="6.75" fill="#474747" stroke="#1e1e1e" stroke-width="1.3"/>
<path d="M1274.6 1472.43V1476.55M1267.3 1472.43H1281.9M1267.3 1476.55H1281.9" stroke="#555555" stroke-width="1.5" fill="none"/>
<path d="M1334.15 1482.02V1502.58M1326.85 1482.02H1341.45M1326.85 1502.58H1341.45" stroke="#555555" stroke-width="1.5" fill="none"/>
<path d="M1393.7 1493.67V1501.89M1386.4 1493.67H1401M1386.4 1501.89H1401" stroke="#555555" stroke-width="1.5" fill="none"/>
<path d="M1453.25 1506V1519.7M1445.95 1506H1460.55M1445.95 1519.7H1460.55" stroke="#555555" stroke-width="1.5" fill="none"/>
<path d="M1512.8 1508.74V1533.4M1505.5 1508.74H1520.1M1505.5 1533.4H1520.1" stroke="#555555" stroke-width="1.5" fill="none"/>
<path d="M1572.35 1516.28V1529.97M1565.05 1516.28H1579.65M1565.05 1529.97H1579.65" stroke="#555555" stroke-width="1.5" fill="none"/>
<path d="M1155.5 1437.5 L1215.0 1454.6 L1274.6 1474.5 L1334.2 1492.3 L1393.7 1497.8 L1453.2 1512.8 L1512.8 1521.1 L1572.3 1523.1" stroke="#a8a8a8" stroke-width="2.8" fill="none" stroke-linejoin="round"/>
<circle cx="1155.5" cy="1437.5" r="6.75" fill="#b5b5b5" stroke="#1e1e1e" stroke-width="1.3"/>
<circle cx="1215.05" cy="1454.62" r="6.75" fill="#b5b5b5" stroke="#1e1e1e" stroke-width="1.3"/>
<circle cx="1274.6" cy="1474.49" r="6.75" fill="#b5b5b5" stroke="#1e1e1e" stroke-width="1.3"/>
<circle cx="1334.15" cy="1492.3" r="6.75" fill="#b5b5b5" stroke="#1e1e1e" stroke-width="1.3"/>
<circle cx="1393.7" cy="1497.78" r="6.75" fill="#b5b5b5" stroke="#1e1e1e" stroke-width="1.3"/>
<circle cx="1453.25" cy="1512.85" r="6.75" fill="#b5b5b5" stroke="#1e1e1e" stroke-width="1.3"/>
<circle cx="1512.8" cy="1521.07" r="6.75" fill="#b5b5b5" stroke="#1e1e1e" stroke-width="1.3"/>
<circle cx="1572.35" cy="1523.12" r="6.75" fill="#b5b5b5" stroke="#1e1e1e" stroke-width="1.3"/>
<line x1="1628.6" y1="1369.3" x2="1628.6" y2="1781.1" stroke="#262626" stroke-width="1.7" />
<line x1="1627.8" y1="1780.4" x2="2075.9" y2="1780.4" stroke="#262626" stroke-width="1.7" />
<line x1="1621.6" y1="1370" x2="1628.6" y2="1370" stroke="#262626" stroke-width="1.6" />
<text transform="translate(1620.9 1375.4) scale(1 1.02)" font-size="30" text-anchor="end" ><tspan font-family="NanumGothic, Liberation Sans, sans-serif" font-size="27.90" dx="0.90" letter-spacing="-1.13">1</tspan></text>
<line x1="1621.6" y1="1438.4" x2="1628.6" y2="1438.4" stroke="#262626" stroke-width="1.6" />
<text transform="translate(1620.9 1443.8) scale(1 1.02)" font-size="30" text-anchor="end" >0</text>
<line x1="1621.6" y1="1506.8" x2="1628.6" y2="1506.8" stroke="#262626" stroke-width="1.6" />
<text transform="translate(1620.9 1512.2) scale(1 1.02)" font-size="30" text-anchor="end" >-<tspan font-family="NanumGothic, Liberation Sans, sans-serif" font-size="27.90" dx="0.90" letter-spacing="-1.13">1</tspan></text>
<line x1="1621.6" y1="1575.2" x2="1628.6" y2="1575.2" stroke="#262626" stroke-width="1.6" />
<text transform="translate(1620.9 1580.6) scale(1 1.02)" font-size="30" text-anchor="end" >-2</text>
<line x1="1621.6" y1="1643.6" x2="1628.6" y2="1643.6" stroke="#262626" stroke-width="1.6" />
<text transform="translate(1620.9 1649) scale(1 1.02)" font-size="30" text-anchor="end" >-3</text>
<line x1="1621.6" y1="1712" x2="1628.6" y2="1712" stroke="#262626" stroke-width="1.6" />
<text transform="translate(1620.9 1717.4) scale(1 1.02)" font-size="30" text-anchor="end" >-4</text>
<line x1="1621.6" y1="1780.4" x2="1628.6" y2="1780.4" stroke="#262626" stroke-width="1.6" />
<text transform="translate(1620.9 1785.8) scale(1 1.02)" font-size="30" text-anchor="end" >-5</text>
<line x1="1717.5" y1="1780.4" x2="1717.5" y2="1788" stroke="#262626" stroke-width="1.6" />
<text transform="translate(1719 1816.5) scale(1 1.02)" font-size="30" text-anchor="middle" >P<tspan font-family="NanumGothic, Liberation Sans, sans-serif" font-size="27.90" dx="0.90" letter-spacing="-1.13">1</tspan></text>
<line x1="1836.7" y1="1780.4" x2="1836.7" y2="1788" stroke="#262626" stroke-width="1.6" />
<text transform="translate(1838.2 1816.5) scale(1 1.02)" font-size="30" text-anchor="middle" >P3</text>
<line x1="1955.9" y1="1780.4" x2="1955.9" y2="1788" stroke="#262626" stroke-width="1.6" />
<text transform="translate(1957.4 1816.5) scale(1 1.02)" font-size="30" text-anchor="middle" >P5</text>
<line x1="2075.1" y1="1780.4" x2="2075.1" y2="1788" stroke="#262626" stroke-width="1.6" />
<text transform="translate(2076.6 1816.5) scale(1 1.02)" font-size="30" text-anchor="middle" >P7</text>
<text transform="translate(1877 1372.5) scale(1 1.02)" font-size="35.1" text-anchor="middle" >Sp:sg<tspan font-style="italic">FAM35A</tspan></text>
<path d="M1717.5 1428.82V1432.93M1710.2 1428.82H1724.8M1710.2 1432.93H1724.8" stroke="#34479a" stroke-width="1.5" fill="none"/>
<path d="M1777.1 1446.61V1454.82M1769.8 1446.61H1784.4M1769.8 1454.82H1784.4" stroke="#34479a" stroke-width="1.5" fill="none"/>
<path d="M1836.7 1459.6V1467.81M1829.4 1459.6H1844M1829.4 1467.81H1844" stroke="#34479a" stroke-width="1.5" fill="none"/>
<path d="M1896.3 1443.19V1451.4M1889 1443.19H1903.6M1889 1451.4H1903.6" stroke="#34479a" stroke-width="1.5" fill="none"/>
<path d="M1955.9 1447.98V1464.39M1948.6 1447.98H1963.2M1948.6 1464.39H1963.2" stroke="#34479a" stroke-width="1.5" fill="none"/>
<path d="M2015.5 1467.81V1476.02M2008.2 1467.81H2022.8M2008.2 1476.02H2022.8" stroke="#34479a" stroke-width="1.5" fill="none"/>
<path d="M2075.1 1467.81V1476.02M2067.8 1467.81H2082.4M2067.8 1476.02H2082.4" stroke="#34479a" stroke-width="1.5" fill="none"/>
<path d="M1657.9 1438.4 L1717.5 1430.9 L1777.1 1450.7 L1836.7 1463.7 L1896.3 1447.3 L1955.9 1456.2 L2015.5 1471.9 L2075.1 1471.9" stroke="#2c3f98" stroke-width="2.8" fill="none" stroke-linejoin="round"/>
<circle cx="1657.9" cy="1438.4" r="6.75" fill="#2f47a6" stroke="#1e1e1e" stroke-width="1.3"/>
<circle cx="1717.5" cy="1430.88" r="6.75" fill="#2f47a6" stroke="#1e1e1e" stroke-width="1.3"/>
<circle cx="1777.1" cy="1450.71" r="6.75" fill="#2f47a6" stroke="#1e1e1e" stroke-width="1.3"/>
<circle cx="1836.7" cy="1463.71" r="6.75" fill="#2f47a6" stroke="#1e1e1e" stroke-width="1.3"/>
<circle cx="1896.3" cy="1447.29" r="6.75" fill="#2f47a6" stroke="#1e1e1e" stroke-width="1.3"/>
<circle cx="1955.9" cy="1456.18" r="6.75" fill="#2f47a6" stroke="#1e1e1e" stroke-width="1.3"/>
<circle cx="2015.5" cy="1471.92" r="6.75" fill="#2f47a6" stroke="#1e1e1e" stroke-width="1.3"/>
<circle cx="2075.1" cy="1471.92" r="6.75" fill="#2f47a6" stroke="#1e1e1e" stroke-width="1.3"/>
<path d="M1717.5 1424.04V1437.72M1710.2 1424.04H1724.8M1710.2 1437.72H1724.8" stroke="#3d88cb" stroke-width="1.5" fill="none"/>
<path d="M1777.1 1438.4V1452.08M1769.8 1438.4H1784.4M1769.8 1452.08H1784.4" stroke="#3d88cb" stroke-width="1.5" fill="none"/>
<path d="M1836.7 1445.92V1466.44M1829.4 1445.92H1844M1829.4 1466.44H1844" stroke="#3d88cb" stroke-width="1.5" fill="none"/>
<path d="M1896.3 1458.24V1465.08M1889 1458.24H1903.6M1889 1465.08H1903.6" stroke="#3d88cb" stroke-width="1.5" fill="none"/>
<path d="M1955.9 1453.45V1478.07M1948.6 1453.45H1963.2M1948.6 1478.07H1963.2" stroke="#3d88cb" stroke-width="1.5" fill="none"/>
<path d="M2015.5 1458.24V1482.86M2008.2 1458.24H2022.8M2008.2 1482.86H2022.8" stroke="#3d88cb" stroke-width="1.5" fill="none"/>
<path d="M2075.1 1458.24V1485.6M2067.8 1458.24H2082.4M2067.8 1485.6H2082.4" stroke="#3d88cb" stroke-width="1.5" fill="none"/>
<path d="M1657.9 1438.4 L1717.5 1430.9 L1777.1 1445.2 L1836.7 1456.2 L1896.3 1461.7 L1955.9 1465.8 L2015.5 1470.5 L2075.1 1471.9" stroke="#3d88cb" stroke-width="2.8" fill="none" stroke-linejoin="round"/>
<circle cx="1657.9" cy="1438.4" r="6.75" fill="#3f8ed4" stroke="#1e1e1e" stroke-width="1.3"/>
<circle cx="1717.5" cy="1430.88" r="6.75" fill="#3f8ed4" stroke="#1e1e1e" stroke-width="1.3"/>
<circle cx="1777.1" cy="1445.24" r="6.75" fill="#3f8ed4" stroke="#1e1e1e" stroke-width="1.3"/>
<circle cx="1836.7" cy="1456.18" r="6.75" fill="#3f8ed4" stroke="#1e1e1e" stroke-width="1.3"/>
<circle cx="1896.3" cy="1461.66" r="6.75" fill="#3f8ed4" stroke="#1e1e1e" stroke-width="1.3"/>
<circle cx="1955.9" cy="1465.76" r="6.75" fill="#3f8ed4" stroke="#1e1e1e" stroke-width="1.3"/>
<circle cx="2015.5" cy="1470.55" r="6.75" fill="#3f8ed4" stroke="#1e1e1e" stroke-width="1.3"/>
<circle cx="2075.1" cy="1471.92" r="6.75" fill="#3f8ed4" stroke="#1e1e1e" stroke-width="1.3"/>
<path d="M1777.1 1469.86V1473.97M1769.8 1469.86H1784.4M1769.8 1473.97H1784.4" stroke="#3c3c3c" stroke-width="1.5" fill="none"/>
<path d="M1836.7 1472.6V1491.75M1829.4 1472.6H1844M1829.4 1491.75H1844" stroke="#3c3c3c" stroke-width="1.5" fill="none"/>
<path d="M1896.3 1475.34V1493.12M1889 1475.34H1903.6M1889 1493.12H1903.6" stroke="#3c3c3c" stroke-width="1.5" fill="none"/>
<path d="M1955.9 1475.34V1502.7M1948.6 1475.34H1963.2M1948.6 1502.7H1963.2" stroke="#3c3c3c" stroke-width="1.5" fill="none"/>
<path d="M2015.5 1480.81V1508.17M2008.2 1480.81H2022.8M2008.2 1508.17H2022.8" stroke="#3c3c3c" stroke-width="1.5" fill="none"/>
<path d="M2075.1 1480.12V1503.38M2067.8 1480.12H2082.4M2067.8 1503.38H2082.4" stroke="#3c3c3c" stroke-width="1.5" fill="none"/>
<path d="M1657.9 1438.4 L1717.5 1458.9 L1777.1 1471.9 L1836.7 1482.2 L1896.3 1484.2 L1955.9 1489.0 L2015.5 1494.5 L2075.1 1491.8" stroke="#3c3c3c" stroke-width="2.8" fill="none" stroke-linejoin="round"/>
<circle cx="1657.9" cy="1438.4" r="6.75" fill="#474747" stroke="#1e1e1e" stroke-width="1.3"/>
<circle cx="1717.5" cy="1458.92" r="6.75" fill="#474747" stroke="#1e1e1e" stroke-width="1.3"/>
<circle cx="1777.1" cy="1471.92" r="6.75" fill="#474747" stroke="#1e1e1e" stroke-width="1.3"/>
<circle cx="1836.7" cy="1482.18" r="6.75" fill="#474747" stroke="#1e1e1e" stroke-width="1.3"/>
<circle cx="1896.3" cy="1484.23" r="6.75" fill="#474747" stroke="#1e1e1e" stroke-width="1.3"/>
<circle cx="1955.9" cy="1489.02" r="6.75" fill="#474747" stroke="#1e1e1e" stroke-width="1.3"/>
<circle cx="2015.5" cy="1494.49" r="6.75" fill="#474747" stroke="#1e1e1e" stroke-width="1.3"/>
<circle cx="2075.1" cy="1491.75" r="6.75" fill="#474747" stroke="#1e1e1e" stroke-width="1.3"/>
<path d="M1777.1 1464.39V1468.5M1769.8 1464.39H1784.4M1769.8 1468.5H1784.4" stroke="#555555" stroke-width="1.5" fill="none"/>
<path d="M1836.7 1470.55V1481.49M1829.4 1470.55H1844M1829.4 1481.49H1844" stroke="#555555" stroke-width="1.5" fill="none"/>
<path d="M1896.3 1476.02V1489.7M1889 1476.02H1903.6M1889 1489.7H1903.6" stroke="#555555" stroke-width="1.5" fill="none"/>
<path d="M1955.9 1478.07V1489.02M1948.6 1478.07H1963.2M1948.6 1489.02H1963.2" stroke="#555555" stroke-width="1.5" fill="none"/>
<path d="M2015.5 1479.44V1487.65M2008.2 1479.44H2022.8M2008.2 1487.65H2022.8" stroke="#555555" stroke-width="1.5" fill="none"/>
<path d="M2075.1 1480.81V1491.75M2067.8 1480.81H2082.4M2067.8 1491.75H2082.4" stroke="#555555" stroke-width="1.5" fill="none"/>
<path d="M1657.9 1438.4 L1717.5 1454.8 L1777.1 1466.4 L1836.7 1476.0 L1896.3 1482.9 L1955.9 1483.5 L2015.5 1483.5 L2075.1 1486.3" stroke="#a8a8a8" stroke-width="2.8" fill="none" stroke-linejoin="round"/>
<circle cx="1657.9" cy="1438.4" r="6.75" fill="#b5b5b5" stroke="#1e1e1e" stroke-width="1.3"/>
<circle cx="1717.5" cy="1454.82" r="6.75" fill="#b5b5b5" stroke="#1e1e1e" stroke-width="1.3"/>
<circle cx="1777.1" cy="1466.44" r="6.75" fill="#b5b5b5" stroke="#1e1e1e" stroke-width="1.3"/>
<circle cx="1836.7" cy="1476.02" r="6.75" fill="#b5b5b5" stroke="#1e1e1e" stroke-width="1.3"/>
<circle cx="1896.3" cy="1482.86" r="6.75" fill="#b5b5b5" stroke="#1e1e1e" stroke-width="1.3"/>
<circle cx="1955.9" cy="1483.54" r="6.75" fill="#b5b5b5" stroke="#1e1e1e" stroke-width="1.3"/>
<circle cx="2015.5" cy="1483.54" r="6.75" fill="#b5b5b5" stroke="#1e1e1e" stroke-width="1.3"/>
<circle cx="2075.1" cy="1486.28" r="6.75" fill="#b5b5b5" stroke="#1e1e1e" stroke-width="1.3"/>
<line x1="126.7" y1="1894.7" x2="126.7" y2="2306.5" stroke="#262626" stroke-width="1.7" />
<line x1="125.9" y1="2305.8" x2="573.65" y2="2305.8" stroke="#262626" stroke-width="1.7" />
<line x1="119.7" y1="1895.4" x2="126.7" y2="1895.4" stroke="#262626" stroke-width="1.6" />
<text transform="translate(119.2 1904) scale(1 1.02)" font-size="30" text-anchor="end" ><tspan font-family="NanumGothic, Liberation Sans, sans-serif" font-size="27.90" dx="0.90" letter-spacing="-1.13">1</tspan></text>
<line x1="119.7" y1="1963.8" x2="126.7" y2="1963.8" stroke="#262626" stroke-width="1.6" />
<text transform="translate(119.2 1972.4) scale(1 1.02)" font-size="30" text-anchor="end" >0</text>
<line x1="119.7" y1="2032.2" x2="126.7" y2="2032.2" stroke="#262626" stroke-width="1.6" />
<text transform="translate(119.2 2040.8) scale(1 1.02)" font-size="30" text-anchor="end" >-<tspan font-family="NanumGothic, Liberation Sans, sans-serif" font-size="27.90" dx="0.90" letter-spacing="-1.13">1</tspan></text>
<line x1="119.7" y1="2100.6" x2="126.7" y2="2100.6" stroke="#262626" stroke-width="1.6" />
<text transform="translate(119.2 2109.2) scale(1 1.02)" font-size="30" text-anchor="end" >-2</text>
<line x1="119.7" y1="2169" x2="126.7" y2="2169" stroke="#262626" stroke-width="1.6" />
<text transform="translate(119.2 2177.6) scale(1 1.02)" font-size="30" text-anchor="end" >-3</text>
<line x1="119.7" y1="2237.4" x2="126.7" y2="2237.4" stroke="#262626" stroke-width="1.6" />
<text transform="translate(119.2 2246) scale(1 1.02)" font-size="30" text-anchor="end" >-4</text>
<line x1="119.7" y1="2305.8" x2="126.7" y2="2305.8" stroke="#262626" stroke-width="1.6" />
<text transform="translate(119.2 2314.4) scale(1 1.02)" font-size="30" text-anchor="end" >-5</text>
<line x1="215.55" y1="2305.8" x2="215.55" y2="2313.4" stroke="#262626" stroke-width="1.6" />
<text transform="translate(217.05 2341.9) scale(1 1.02)" font-size="30" text-anchor="middle" >P<tspan font-family="NanumGothic, Liberation Sans, sans-serif" font-size="27.90" dx="0.90" letter-spacing="-1.13">1</tspan></text>
<line x1="334.65" y1="2305.8" x2="334.65" y2="2313.4" stroke="#262626" stroke-width="1.6" />
<text transform="translate(336.15 2341.9) scale(1 1.02)" font-size="30" text-anchor="middle" >P3</text>
<line x1="453.75" y1="2305.8" x2="453.75" y2="2313.4" stroke="#262626" stroke-width="1.6" />
<text transform="translate(455.25 2341.9) scale(1 1.02)" font-size="30" text-anchor="middle" >P5</text>
<line x1="572.85" y1="2305.8" x2="572.85" y2="2313.4" stroke="#262626" stroke-width="1.6" />
<text transform="translate(574.35 2341.9) scale(1 1.02)" font-size="30" text-anchor="middle" >P7</text>
<text transform="translate(331.5 1900) scale(1 1.02)" font-size="35.1" text-anchor="middle" >Sp: sg<tspan font-style="italic">FEN<tspan font-family="NanumGothic, Liberation Sans, sans-serif" font-size="32.64" dx="-3.51" letter-spacing="3.24">1</tspan></tspan></text>
<path d="M275.1 1985V1989.11M267.8 1985H282.4M267.8 1989.11H282.4" stroke="#34479a" stroke-width="1.5" fill="none"/>
<path d="M334.65 2012.36V2019.2M327.35 2012.36H341.95M327.35 2019.2H341.95" stroke="#34479a" stroke-width="1.5" fill="none"/>
<path d="M394.2 2032.2V2067.77M386.9 2032.2H401.5M386.9 2067.77H401.5" stroke="#34479a" stroke-width="1.5" fill="none"/>
<path d="M453.75 2072.56V2101.28M446.45 2072.56H461.05M446.45 2101.28H461.05" stroke="#34479a" stroke-width="1.5" fill="none"/>
<path d="M513.3 2088.29V2111.54M506 2088.29H520.6M506 2111.54H520.6" stroke="#34479a" stroke-width="1.5" fill="none"/>
<path d="M572.85 2099.92V2131.38M565.55 2099.92H580.15M565.55 2131.38H580.15" stroke="#34479a" stroke-width="1.5" fill="none"/>
<path d="M156.0 1963.8 L215.6 1959.7 L275.1 1987.1 L334.6 2015.8 L394.2 2050.0 L453.8 2086.9 L513.3 2099.9 L572.8 2115.6" stroke="#2c3f98" stroke-width="2.8" fill="none" stroke-linejoin="round"/>
<circle cx="156" cy="1963.8" r="6.75" fill="#2f47a6" stroke="#1e1e1e" stroke-width="1.3"/>
<circle cx="215.55" cy="1959.7" r="6.75" fill="#2f47a6" stroke="#1e1e1e" stroke-width="1.3"/>
<circle cx="275.1" cy="1987.06" r="6.75" fill="#2f47a6" stroke="#1e1e1e" stroke-width="1.3"/>
<circle cx="334.65" cy="2015.78" r="6.75" fill="#2f47a6" stroke="#1e1e1e" stroke-width="1.3"/>
<circle cx="394.2" cy="2049.98" r="6.75" fill="#2f47a6" stroke="#1e1e1e" stroke-width="1.3"/>
<circle cx="453.75" cy="2086.92" r="6.75" fill="#2f47a6" stroke="#1e1e1e" stroke-width="1.3"/>
<circle cx="513.3" cy="2099.92" r="6.75" fill="#2f47a6" stroke="#1e1e1e" stroke-width="1.3"/>
<circle cx="572.85" cy="2115.65" r="6.75" fill="#2f47a6" stroke="#1e1e1e" stroke-width="1.3"/>
<path d="M275.1 1978.16V1982.27M267.8 1978.16H282.4M267.8 1982.27H282.4" stroke="#3d88cb" stroke-width="1.5" fill="none"/>
<path d="M334.65 2004.16V2013.73M327.35 2004.16H341.95M327.35 2013.73H341.95" stroke="#3d88cb" stroke-width="1.5" fill="none"/>
<path d="M394.2 2026.04V2034.25M386.9 2026.04H401.5M386.9 2034.25H401.5" stroke="#3d88cb" stroke-width="1.5" fill="none"/>
<path d="M453.75 2030.83V2044.51M446.45 2030.83H461.05M446.45 2044.51H461.05" stroke="#3d88cb" stroke-width="1.5" fill="none"/>
<path d="M513.3 2052.04V2062.98M506 2052.04H520.6M506 2062.98H520.6" stroke="#3d88cb" stroke-width="1.5" fill="none"/>
<path d="M572.85 2055.46V2080.08M565.55 2055.46H580.15M565.55 2080.08H580.15" stroke="#3d88cb" stroke-width="1.5" fill="none"/>
<path d="M156.0 1963.8 L215.6 1959.7 L275.1 1980.2 L334.6 2008.9 L394.2 2030.1 L453.8 2037.7 L513.3 2057.5 L572.8 2067.8" stroke="#3d88cb" stroke-width="2.8" fill="none" stroke-linejoin="round"/>
<circle cx="156" cy="1963.8" r="6.75" fill="#3f8ed4" stroke="#1e1e1e" stroke-width="1.3"/>
<circle cx="215.55" cy="1959.7" r="6.75" fill="#3f8ed4" stroke="#1e1e1e" stroke-width="1.3"/>
<circle cx="275.1" cy="1980.22" r="6.75" fill="#3f8ed4" stroke="#1e1e1e" stroke-width="1.3"/>
<circle cx="334.65" cy="2008.94" r="6.75" fill="#3f8ed4" stroke="#1e1e1e" stroke-width="1.3"/>
<circle cx="394.2" cy="2030.15" r="6.75" fill="#3f8ed4" stroke="#1e1e1e" stroke-width="1.3"/>
<circle cx="453.75" cy="2037.67" r="6.75" fill="#3f8ed4" stroke="#1e1e1e" stroke-width="1.3"/>
<circle cx="513.3" cy="2057.51" r="6.75" fill="#3f8ed4" stroke="#1e1e1e" stroke-width="1.3"/>
<circle cx="572.85" cy="2067.77" r="6.75" fill="#3f8ed4" stroke="#1e1e1e" stroke-width="1.3"/>
<path d="M275.1 1998.68V2002.79M267.8 1998.68H282.4M267.8 2002.79H282.4" stroke="#3c3c3c" stroke-width="1.5" fill="none"/>
<path d="M334.65 2017.84V2028.78M327.35 2017.84H341.95M327.35 2028.78H341.95" stroke="#3c3c3c" stroke-width="1.5" fill="none"/>
<path d="M394.2 2033.57V2047.25M386.9 2033.57H401.5M386.9 2047.25H401.5" stroke="#3c3c3c" stroke-width="1.5" fill="none"/>
<path d="M453.75 2056.82V2065.03M446.45 2056.82H461.05M446.45 2065.03H461.05" stroke="#3c3c3c" stroke-width="1.5" fill="none"/>
<path d="M513.3 2062.3V2075.98M506 2062.3H520.6M506 2075.98H520.6" stroke="#3c3c3c" stroke-width="1.5" fill="none"/>
<path d="M572.85 2065.03V2078.71M565.55 2065.03H580.15M565.55 2078.71H580.15" stroke="#3c3c3c" stroke-width="1.5" fill="none"/>
<path d="M156.0 1963.8 L215.6 1979.5 L275.1 2000.7 L334.6 2023.3 L394.2 2040.4 L453.8 2060.9 L513.3 2069.1 L572.8 2071.9" stroke="#3c3c3c" stroke-width="2.8" fill="none" stroke-linejoin="round"/>
<circle cx="156" cy="1963.8" r="6.75" fill="#474747" stroke="#1e1e1e" stroke-width="1.3"/>
<circle cx="215.55" cy="1979.53" r="6.75" fill="#474747" stroke="#1e1e1e" stroke-width="1.3"/>
<circle cx="275.1" cy="2000.74" r="6.75" fill="#474747" stroke="#1e1e1e" stroke-width="1.3"/>
<circle cx="334.65" cy="2023.31" r="6.75" fill="#474747" stroke="#1e1e1e" stroke-width="1.3"/>
<circle cx="394.2" cy="2040.41" r="6.75" fill="#474747" stroke="#1e1e1e" stroke-width="1.3"/>
<circle cx="453.75" cy="2060.93" r="6.75" fill="#474747" stroke="#1e1e1e" stroke-width="1.3"/>
<circle cx="513.3" cy="2069.14" r="6.75" fill="#474747" stroke="#1e1e1e" stroke-width="1.3"/>
<circle cx="572.85" cy="2071.87" r="6.75" fill="#474747" stroke="#1e1e1e" stroke-width="1.3"/>
<path d="M275.1 1995.95V2000.05M267.8 1995.95H282.4M267.8 2000.05H282.4" stroke="#555555" stroke-width="1.5" fill="none"/>
<path d="M334.65 2015.78V2022.62M327.35 2015.78H341.95M327.35 2022.62H341.95" stroke="#555555" stroke-width="1.5" fill="none"/>
<path d="M394.2 2017.84V2042.46M386.9 2017.84H401.5M386.9 2042.46H401.5" stroke="#555555" stroke-width="1.5" fill="none"/>
<path d="M453.75 2043.14V2051.35M446.45 2043.14H461.05M446.45 2051.35H461.05" stroke="#555555" stroke-width="1.5" fill="none"/>
<path d="M513.3 2057.51V2073.92M506 2057.51H520.6M506 2073.92H520.6" stroke="#555555" stroke-width="1.5" fill="none"/>
<path d="M572.85 2058.19V2085.55M565.55 2058.19H580.15M565.55 2085.55H580.15" stroke="#555555" stroke-width="1.5" fill="none"/>
<path d="M156.0 1963.8 L215.6 1979.5 L275.1 1998.0 L334.6 2019.2 L394.2 2030.1 L453.8 2047.2 L513.3 2065.7 L572.8 2071.9" stroke="#a8a8a8" stroke-width="2.8" fill="none" stroke-linejoin="round"/>
<circle cx="156" cy="1963.8" r="6.75" fill="#b5b5b5" stroke="#1e1e1e" stroke-width="1.3"/>
<circle cx="215.55" cy="1979.53" r="6.75" fill="#b5b5b5" stroke="#1e1e1e" stroke-width="1.3"/>
<circle cx="275.1" cy="1998" r="6.75" fill="#b5b5b5" stroke="#1e1e1e" stroke-width="1.3"/>
<circle cx="334.65" cy="2019.2" r="6.75" fill="#b5b5b5" stroke="#1e1e1e" stroke-width="1.3"/>
<circle cx="394.2" cy="2030.15" r="6.75" fill="#b5b5b5" stroke="#1e1e1e" stroke-width="1.3"/>
<circle cx="453.75" cy="2047.25" r="6.75" fill="#b5b5b5" stroke="#1e1e1e" stroke-width="1.3"/>
<circle cx="513.3" cy="2065.72" r="6.75" fill="#b5b5b5" stroke="#1e1e1e" stroke-width="1.3"/>
<circle cx="572.85" cy="2071.87" r="6.75" fill="#b5b5b5" stroke="#1e1e1e" stroke-width="1.3"/>
<text transform="translate(31.6 1580.5) rotate(-90) scale(1 1.02)" font-size="35.1" text-anchor="middle" >Relative GFP+ (log<tspan font-size="20" dy="10">2</tspan><tspan dy="-10">)</tspan></text>
<text transform="translate(73.2 1576.3) rotate(-90) scale(1 1.02)" font-size="35.1" text-anchor="middle" >(normalized to T initial)</text>
<text transform="translate(42.6 2099.4) rotate(-90) scale(1 1.02)" font-size="35.1" text-anchor="middle" >Relative GFP+ (log<tspan font-size="20" dy="10">2</tspan><tspan dy="-10">)</tspan></text>
<text transform="translate(84.2 2093.4) rotate(-90) scale(1 1.02)" font-size="35.1" text-anchor="middle" >(normalized to T initial)</text>
<rect x="140.8" y="1628" width="352.8" height="122.5" fill="#fff" stroke="#1a1a1a" stroke-width="1.6"/>
<line x1="153.3" y1="1649.6" x2="178" y2="1649.6" stroke="#a8a8a8" stroke-width="2.4" />
<circle cx="165" cy="1649.6" r="5.6" fill="#b5b5b5" stroke="#1e1e1e" stroke-width="1.2"/>
<text transform="translate(183 1656.7) scale(1 1.02)" font-size="30" text-anchor="start" >DMSO</text>
<line x1="153.3" y1="1679.2" x2="178" y2="1679.2" stroke="#3c3c3c" stroke-width="2.4" />
<circle cx="165" cy="1679.2" r="5.6" fill="#474747" stroke="#1e1e1e" stroke-width="1.2"/>
<text transform="translate(183 1682.5) scale(1 1.02)" font-size="30" text-anchor="start" >50 nM ola</text>
<line x1="153.3" y1="1703.9" x2="178" y2="1703.9" stroke="#3d88cb" stroke-width="2.4" />
<circle cx="165" cy="1703.9" r="5.6" fill="#3f8ed4" stroke="#1e1e1e" stroke-width="1.2"/>
<text transform="translate(183 1708) scale(1 1.02)" font-size="30" text-anchor="start" >DMSO</text>
<line x1="153.3" y1="1728.6" x2="178" y2="1728.6" stroke="#2c3f98" stroke-width="2.4" />
<circle cx="165" cy="1728.6" r="5.6" fill="#2f47a6" stroke="#1e1e1e" stroke-width="1.2"/>
<text transform="translate(183 1735.5) scale(1 1.02)" font-size="30" text-anchor="start" >50 nM ola</text>
<line x1="321.5" y1="1641.5" x2="321.5" y2="1685.5" stroke="#111" stroke-width="1.6" />
<line x1="321.5" y1="1692.2" x2="321.5" y2="1736.2" stroke="#111" stroke-width="1.6" />
<text transform="translate(328 1668) scale(1 1.02)" font-size="30.4" text-anchor="start" >Sa: sg<tspan font-style="italic">Neg</tspan></text>
<text transform="translate(328 1719) scale(1 1.02)" font-size="30.4" text-anchor="start" style="fill:#3a54a4;stroke:#3a54a4">Sa: sg<tspan font-style="italic">ALC<tspan font-family="NanumGothic, Liberation Sans, sans-serif" font-size="28.27" dx="-3.04" letter-spacing="2.81">1</tspan></tspan></text>
</svg>
</body></html>
